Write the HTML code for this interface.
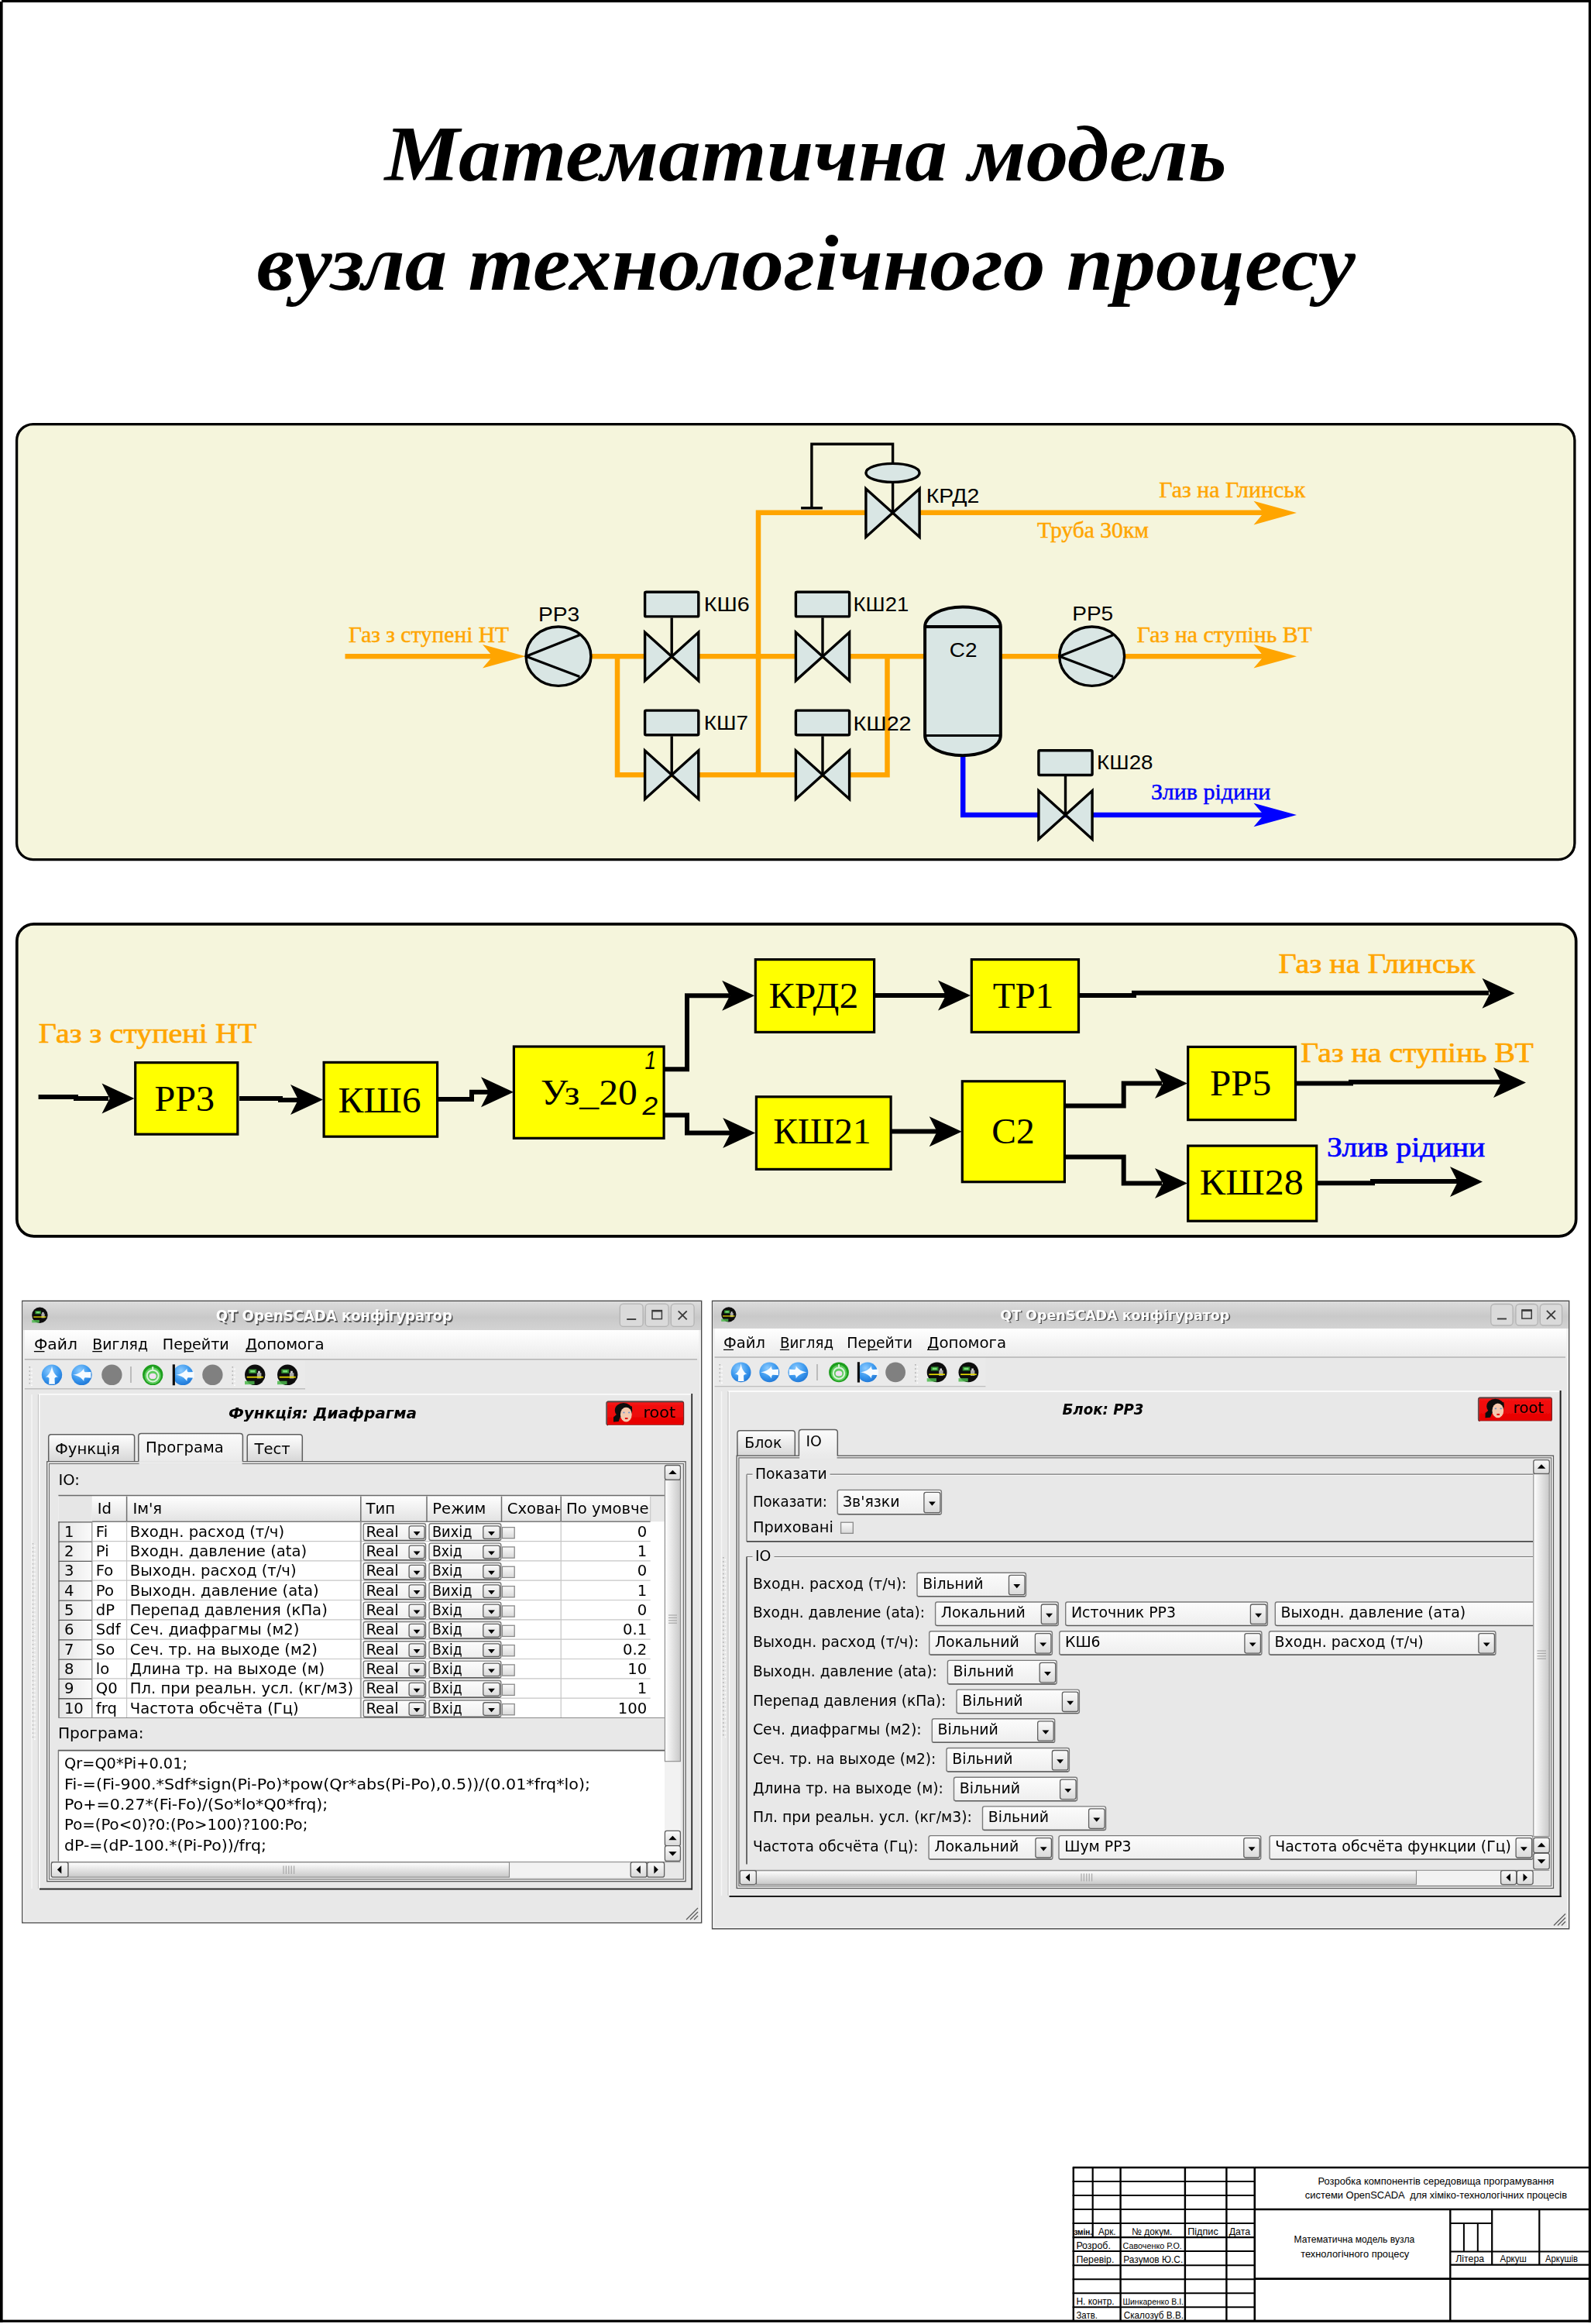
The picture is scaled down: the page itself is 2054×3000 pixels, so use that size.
<!DOCTYPE html>
<html lang="uk"><head><meta charset="utf-8"><title>Математична модель вузла технологічного процесу</title>
<style>html,body{margin:0;padding:0;background:#fff}svg{display:block}text{white-space:pre}</style></head>
<body><svg width="2054" height="3000" viewBox="0 0 2054 3000">
<rect x="0.00" y="0.00" width="3.60" height="2998.00" fill="#000" />
<rect x="0.00" y="0.00" width="2054.00" height="3.10" fill="#000" />
<rect x="2050.80" y="0.00" width="3.20" height="2998.00" fill="#000" />
<rect x="0.00" y="2994.60" width="2053.00" height="3.20" fill="#000" />
<rect x="0.00" y="0.00" width="2.00" height="2.00" fill="#fff" />
<text x="496.50" y="232.50" font-family="'Liberation Serif',serif" font-size="101" fill="#000" font-weight="bold" font-style="italic" textLength="1087.00" lengthAdjust="spacingAndGlyphs" >Математична модель</text>
<text x="331.50" y="373.80" font-family="'Liberation Serif',serif" font-size="101" fill="#000" font-weight="bold" font-style="italic" textLength="1418.50" lengthAdjust="spacingAndGlyphs" >вузла технологічного процесу</text>
<rect x="21.60" y="547.60" width="2011.30" height="562.00" fill="#F5F5DC" stroke="#000" stroke-width="3.3" rx="21" />
<rect x="21.80" y="1192.80" width="2012.90" height="403.00" fill="#F5F5DC" stroke="#000" stroke-width="3.7" rx="22" />
<line x1="445.50" y1="847.30" x2="640.00" y2="847.30" stroke="#FFA500" stroke-width="6.5" />
<path d="M678.5,847.3 L623.0,832.0 L636.0,847.3 L623.0,862.6 Z" fill="#FFA500" />
<line x1="760.00" y1="847.30" x2="1195.00" y2="847.30" stroke="#FFA500" stroke-width="6.5" />
<line x1="1292.00" y1="847.30" x2="1370.00" y2="847.30" stroke="#FFA500" stroke-width="6.5" />
<line x1="1450.00" y1="847.30" x2="1640.00" y2="847.30" stroke="#FFA500" stroke-width="6.5" />
<path d="M1674.0,847.3 L1618.5,832.0 L1631.5,847.3 L1618.5,862.6 Z" fill="#FFA500" />
<path d="M797,847.3 L797,1000.3 L1145.5,1000.3 L1145.5,847.3" fill="none" stroke="#FFA500" stroke-width="6.5" stroke-linejoin="miter"/>
<path d="M979,1000.3 L979,661.8 L1640,661.8" fill="none" stroke="#FFA500" stroke-width="6.5" stroke-linejoin="miter"/>
<path d="M1674.0,662.1 L1618.5,646.8 L1631.5,662.1 L1618.5,677.4 Z" fill="#FFA500" />
<path d="M1243.2,974 L1243.2,1052 L1640,1052" fill="none" stroke="#0000FF" stroke-width="6.5" />
<path d="M1674.0,1052.0 L1618.5,1036.7 L1631.5,1052.0 L1618.5,1067.3 Z" fill="#0000FF" />
<path d="M1047.9,656 L1047.9,573.2 L1152.6,573.2 L1152.6,598" fill="none" stroke="#000" stroke-width="3.4" stroke-linejoin="miter"/>
<line x1="1034.10" y1="655.80" x2="1061.90" y2="655.80" stroke="#000" stroke-width="3.4" />
<line x1="1152.60" y1="622.00" x2="1152.60" y2="662.00" stroke="#000" stroke-width="3.4" />
<path d="M1117.9,630.9 L1152.5,662.1 L1117.9,693.3 Z M1187.1,630.9 L1152.5,662.1 L1187.1,693.3 Z" fill="#D9E6E4" stroke="#000" stroke-width="3.4" stroke-linejoin="miter"/>
<text x="1195.70" y="649.40" font-family="'Liberation Sans',sans-serif" font-size="25.6" fill="#000" textLength="68.60" lengthAdjust="spacingAndGlyphs" >КРД2</text>
<ellipse cx="1152.5" cy="610.4" rx="34.6" ry="12" fill="#D9E6E4" stroke="#000" stroke-width="3.4"/>
<ellipse cx="721" cy="847.2" rx="41.9" ry="38.2" fill="#D9E6E4" stroke="#000" stroke-width="3.4"/>
<path d="M748.3,819.8 L679.1,847.2 L748.3,873.6" fill="none" stroke="#000" stroke-width="3.2" stroke-linejoin="round"/>
<text x="695.00" y="801.50" font-family="'Liberation Sans',sans-serif" font-size="25.6" fill="#000" textLength="53.30" lengthAdjust="spacingAndGlyphs" >PP3</text>
<ellipse cx="1409.7" cy="847.2" rx="41.9" ry="38.2" fill="#D9E6E4" stroke="#000" stroke-width="3.4"/>
<path d="M1437.0,819.8 L1367.8,847.2 L1437.0,873.6" fill="none" stroke="#000" stroke-width="3.2" stroke-linejoin="round"/>
<text x="1384.20" y="801.40" font-family="'Liberation Sans',sans-serif" font-size="25.6" fill="#000" textLength="53.00" lengthAdjust="spacingAndGlyphs" >PP5</text>
<path d="M832.6,816.2 L867.2,847.4 L832.6,878.6 Z M901.8,816.2 L867.2,847.4 L901.8,878.6 Z" fill="#D9E6E4" stroke="#000" stroke-width="3.4" stroke-linejoin="miter"/>
<line x1="867.20" y1="847.40" x2="867.20" y2="797.40" stroke="#000" stroke-width="3.4" />
<rect x="832.60" y="764.20" width="69.20" height="31.70" fill="#D9E6E4" stroke="#000" stroke-width="3.4" rx="1.5" />
<text x="908.70" y="789.00" font-family="'Liberation Sans',sans-serif" font-size="25.6" fill="#000" textLength="59.00" lengthAdjust="spacingAndGlyphs" >КШ6</text>
<path d="M832.6,969.1 L867.2,1000.3 L832.6,1031.5 Z M901.8,969.1 L867.2,1000.3 L901.8,1031.5 Z" fill="#D9E6E4" stroke="#000" stroke-width="3.4" stroke-linejoin="miter"/>
<line x1="867.20" y1="1000.30" x2="867.20" y2="950.30" stroke="#000" stroke-width="3.4" />
<rect x="832.60" y="917.10" width="69.20" height="31.70" fill="#D9E6E4" stroke="#000" stroke-width="3.4" rx="1.5" />
<text x="908.70" y="942.30" font-family="'Liberation Sans',sans-serif" font-size="25.6" fill="#000" textLength="57.30" lengthAdjust="spacingAndGlyphs" >КШ7</text>
<path d="M1027.4,816.2 L1062.0,847.4 L1027.4,878.6 Z M1096.6,816.2 L1062.0,847.4 L1096.6,878.6 Z" fill="#D9E6E4" stroke="#000" stroke-width="3.4" stroke-linejoin="miter"/>
<line x1="1062.00" y1="847.40" x2="1062.00" y2="797.40" stroke="#000" stroke-width="3.4" />
<rect x="1027.40" y="764.20" width="69.20" height="31.70" fill="#D9E6E4" stroke="#000" stroke-width="3.4" rx="1.5" />
<text x="1101.60" y="789.20" font-family="'Liberation Sans',sans-serif" font-size="25.6" fill="#000" textLength="71.60" lengthAdjust="spacingAndGlyphs" >КШ21</text>
<path d="M1027.4,969.1 L1062.0,1000.3 L1027.4,1031.5 Z M1096.6,969.1 L1062.0,1000.3 L1096.6,1031.5 Z" fill="#D9E6E4" stroke="#000" stroke-width="3.4" stroke-linejoin="miter"/>
<line x1="1062.00" y1="1000.30" x2="1062.00" y2="950.30" stroke="#000" stroke-width="3.4" />
<rect x="1027.40" y="917.10" width="69.20" height="31.70" fill="#D9E6E4" stroke="#000" stroke-width="3.4" rx="1.5" />
<text x="1101.60" y="942.50" font-family="'Liberation Sans',sans-serif" font-size="25.6" fill="#000" textLength="75.00" lengthAdjust="spacingAndGlyphs" >КШ22</text>
<path d="M1340.9,1020.8 L1375.5,1052.0 L1340.9,1083.2 Z M1410.1,1020.8 L1375.5,1052.0 L1410.1,1083.2 Z" fill="#D9E6E4" stroke="#000" stroke-width="3.4" stroke-linejoin="miter"/>
<line x1="1375.50" y1="1052.00" x2="1375.50" y2="1002.00" stroke="#000" stroke-width="3.4" />
<rect x="1340.90" y="968.80" width="69.20" height="31.70" fill="#D9E6E4" stroke="#000" stroke-width="3.4" rx="1.5" />
<text x="1416.10" y="993.40" font-family="'Liberation Sans',sans-serif" font-size="25.6" fill="#000" textLength="72.40" lengthAdjust="spacingAndGlyphs" >КШ28</text>
<path d="M1194.1,809 A48.85,25.6 0 0 1 1291.8,809 L1291.8,949.5 A48.85,25.7 0 0 1 1194.1,949.5 Z" fill="#D9E6E4" stroke="#000" stroke-width="4" />
<line x1="1194.10" y1="809.00" x2="1291.80" y2="809.00" stroke="#000" stroke-width="4" />
<line x1="1194.10" y1="949.50" x2="1291.80" y2="949.50" stroke="#000" stroke-width="3.2" />
<text x="1225.80" y="847.90" font-family="'Liberation Sans',sans-serif" font-size="26.2" fill="#000" textLength="35.70" lengthAdjust="spacingAndGlyphs" >C2</text>
<text x="450.00" y="828.60" font-family="'Liberation Serif',serif" font-size="28.7" fill="#FFA500" textLength="207.00" lengthAdjust="spacingAndGlyphs" stroke="#FFA500" stroke-width="0.45">Газ з ступені НТ</text>
<text x="1496.30" y="642.30" font-family="'Liberation Serif',serif" font-size="28.7" fill="#FFA500" textLength="189.00" lengthAdjust="spacingAndGlyphs" stroke="#FFA500" stroke-width="0.45">Газ на Глинськ</text>
<text x="1339.00" y="693.90" font-family="'Liberation Serif',serif" font-size="28.7" fill="#FFA500" textLength="144.00" lengthAdjust="spacingAndGlyphs" stroke="#FFA500" stroke-width="0.45">Труба 30км</text>
<text x="1467.70" y="828.80" font-family="'Liberation Serif',serif" font-size="28.7" fill="#FFA500" textLength="226.00" lengthAdjust="spacingAndGlyphs" stroke="#FFA500" stroke-width="0.45">Газ на ступінь ВТ</text>
<text x="1486.10" y="1032.00" font-family="'Liberation Serif',serif" font-size="28.7" fill="#0000FF" textLength="154.20" lengthAdjust="spacingAndGlyphs" stroke="#0000FF" stroke-width="0.45">Злив рідини</text>
<path d="M49.6,1416 L98,1416 L98,1418 L140,1418" fill="none" stroke="#000" stroke-width="6" stroke-linejoin="miter"/>
<path d="M173.5,1418.0 L131.5,1398.5 L141.5,1418.0 L131.5,1437.5 Z" fill="#000" />
<rect x="174.70" y="1371.70" width="132.10" height="92.50" fill="#FFFF00" stroke="#000" stroke-width="3.2" />
<text x="199.50" y="1433.90" font-family="'Liberation Serif',serif" font-size="45.5" fill="#000" textLength="77.50" lengthAdjust="spacingAndGlyphs" >PP3</text>
<path d="M309,1418 L362,1418 L362,1420 L385,1420" fill="none" stroke="#000" stroke-width="6" stroke-linejoin="miter"/>
<path d="M417.0,1419.5 L375.0,1400.0 L385.0,1419.5 L375.0,1439.0 Z" fill="#000" />
<rect x="418.10" y="1371.40" width="146.50" height="95.80" fill="#FFFF00" stroke="#000" stroke-width="3.2" />
<text x="436.50" y="1435.80" font-family="'Liberation Serif',serif" font-size="45.5" fill="#000" textLength="107.00" lengthAdjust="spacingAndGlyphs" >КШ6</text>
<path d="M566,1419 L609,1419 L609,1409.7 L632,1409.7" fill="none" stroke="#000" stroke-width="6" stroke-linejoin="miter"/>
<path d="M663.0,1409.7 L621.0,1390.2 L631.0,1409.7 L621.0,1429.2 Z" fill="#000" />
<rect x="663.40" y="1351.00" width="193.70" height="118.30" fill="#FFFF00" stroke="#000" stroke-width="3.2" />
<text x="698.00" y="1425.60" font-family="'Liberation Serif',serif" font-size="45.5" fill="#000" textLength="124.80" lengthAdjust="spacingAndGlyphs" >Уз_20</text>
<text x="832.50" y="1379.80" font-family="'Liberation Sans',sans-serif" font-size="33" fill="#000" font-style="italic" textLength="14.50" lengthAdjust="spacingAndGlyphs" >1</text>
<text x="829.50" y="1438.80" font-family="'Liberation Sans',sans-serif" font-size="33" fill="#000" font-style="italic" textLength="19.50" lengthAdjust="spacingAndGlyphs" >2</text>
<path d="M858,1380.3 L887,1380.3 L887,1285.2 L942,1285.2" fill="none" stroke="#000" stroke-width="6" stroke-linejoin="miter"/>
<path d="M974.2,1285.2 L932.2,1265.7 L942.2,1285.2 L932.2,1304.7 Z" fill="#000" />
<rect x="975.30" y="1238.60" width="153.30" height="93.80" fill="#FFFF00" stroke="#000" stroke-width="3.2" />
<text x="992.50" y="1301.00" font-family="'Liberation Serif',serif" font-size="45.5" fill="#000" textLength="115.80" lengthAdjust="spacingAndGlyphs" >КРД2</text>
<path d="M1129.5,1284.9 L1222,1284.9" fill="none" stroke="#000" stroke-width="6" stroke-linejoin="miter"/>
<path d="M1253.0,1284.9 L1211.0,1265.4 L1221.0,1284.9 L1211.0,1304.4 Z" fill="#000" />
<rect x="1254.30" y="1238.60" width="138.20" height="93.80" fill="#FFFF00" stroke="#000" stroke-width="3.2" />
<text x="1281.80" y="1301.00" font-family="'Liberation Serif',serif" font-size="45.5" fill="#000" textLength="78.40" lengthAdjust="spacingAndGlyphs" >ТР1</text>
<path d="M1393.5,1284.9 L1464,1284.9 L1464,1281.7 L1922,1281.7" fill="none" stroke="#000" stroke-width="6" stroke-linejoin="miter"/>
<path d="M1955.5,1282.3 L1913.5,1262.8 L1923.5,1282.3 L1913.5,1301.8 Z" fill="#000" />
<path d="M858,1439.5 L887,1439.5 L887,1462.5 L944,1462.5" fill="none" stroke="#000" stroke-width="6" stroke-linejoin="miter"/>
<path d="M975.2,1462.5 L933.2,1443.0 L943.2,1462.5 L933.2,1482.0 Z" fill="#000" />
<rect x="976.40" y="1415.80" width="173.70" height="93.60" fill="#FFFF00" stroke="#000" stroke-width="3.2" />
<text x="998.20" y="1476.40" font-family="'Liberation Serif',serif" font-size="45.5" fill="#000" textLength="126.30" lengthAdjust="spacingAndGlyphs" >КШ21</text>
<path d="M1151,1460.6 L1210,1460.6" fill="none" stroke="#000" stroke-width="6" stroke-linejoin="miter"/>
<path d="M1241.7,1460.8 L1199.7,1441.3 L1209.7,1460.8 L1199.7,1480.3 Z" fill="#000" />
<rect x="1242.30" y="1395.80" width="132.10" height="129.90" fill="#FFFF00" stroke="#000" stroke-width="3.2" />
<text x="1280.30" y="1476.40" font-family="'Liberation Serif',serif" font-size="45.5" fill="#000" textLength="55.40" lengthAdjust="spacingAndGlyphs" >С2</text>
<path d="M1375.5,1427.4 L1450.7,1427.4 L1450.7,1398.4 L1500,1398.4" fill="none" stroke="#000" stroke-width="6" stroke-linejoin="miter"/>
<path d="M1533.0,1398.6 L1491.0,1379.1 L1501.0,1398.6 L1491.0,1418.1 Z" fill="#000" />
<rect x="1533.70" y="1351.40" width="138.80" height="94.20" fill="#FFFF00" stroke="#000" stroke-width="3.2" />
<text x="1562.00" y="1414.20" font-family="'Liberation Serif',serif" font-size="45.5" fill="#000" textLength="79.20" lengthAdjust="spacingAndGlyphs" >РР5</text>
<path d="M1673.5,1398.5 L1744,1398.5 L1744,1396.8 L1938,1396.8" fill="none" stroke="#000" stroke-width="6" stroke-linejoin="miter"/>
<path d="M1970.0,1397.4 L1928.0,1377.9 L1938.0,1397.4 L1928.0,1416.9 Z" fill="#000" />
<path d="M1375.5,1493.4 L1450.7,1493.4 L1450.7,1527.4 L1500,1527.4" fill="none" stroke="#000" stroke-width="6" stroke-linejoin="miter"/>
<path d="M1533.0,1527.4 L1491.0,1507.9 L1501.0,1527.4 L1491.0,1546.9 Z" fill="#000" />
<rect x="1533.70" y="1479.10" width="166.00" height="97.10" fill="#FFFF00" stroke="#000" stroke-width="3.2" />
<text x="1548.80" y="1542.40" font-family="'Liberation Serif',serif" font-size="45.5" fill="#000" textLength="133.90" lengthAdjust="spacingAndGlyphs" >КШ28</text>
<path d="M1700.5,1527.3 L1772,1527.3 L1772,1525 L1882,1525" fill="none" stroke="#000" stroke-width="6" stroke-linejoin="miter"/>
<path d="M1914.0,1525.4 L1872.0,1505.9 L1882.0,1525.4 L1872.0,1544.9 Z" fill="#000" />
<text x="49.80" y="1345.80" font-family="'Liberation Serif',serif" font-size="36.8" fill="#FFA500" textLength="281.50" lengthAdjust="spacingAndGlyphs" stroke="#FFA500" stroke-width="0.7">Газ з ступені НТ</text>
<text x="1650.40" y="1256.40" font-family="'Liberation Serif',serif" font-size="36.8" fill="#FFA500" textLength="254.20" lengthAdjust="spacingAndGlyphs" stroke="#FFA500" stroke-width="0.7">Газ на Глинськ</text>
<text x="1679.30" y="1371.30" font-family="'Liberation Serif',serif" font-size="36.8" fill="#FFA500" textLength="300.50" lengthAdjust="spacingAndGlyphs" stroke="#FFA500" stroke-width="0.7">Газ на ступінь ВТ</text>
<text x="1713.10" y="1493.20" font-family="'Liberation Serif',serif" font-size="36.8" fill="#0000FF" textLength="204.10" lengthAdjust="spacingAndGlyphs" stroke="#0000FF" stroke-width="0.7">Злив рідини</text>
<defs>
<linearGradient id="gTitle" x1="0" y1="0" x2="0" y2="1"><stop offset="0" stop-color="#DCDCDC"/><stop offset="0.55" stop-color="#C9C9C9"/><stop offset="1" stop-color="#D3D3D3"/></linearGradient>
<linearGradient id="gMenu" x1="0" y1="0" x2="0" y2="1"><stop offset="0" stop-color="#FFFFFF"/><stop offset="1" stop-color="#EBEBEB"/></linearGradient>
<linearGradient id="gBtn" x1="0" y1="0" x2="0" y2="1"><stop offset="0" stop-color="#FBFBFB"/><stop offset="1" stop-color="#D9D9D9"/></linearGradient>
<linearGradient id="gCombo" x1="0" y1="0" x2="0" y2="1"><stop offset="0" stop-color="#FCFCFC"/><stop offset="1" stop-color="#EEEEEE"/></linearGradient>
<linearGradient id="gHdr" x1="0" y1="0" x2="0" y2="1"><stop offset="0" stop-color="#FFFFFF"/><stop offset="1" stop-color="#E2E2E2"/></linearGradient>
<linearGradient id="gTab" x1="0" y1="0" x2="0" y2="1"><stop offset="0" stop-color="#FFFFFF"/><stop offset="1" stop-color="#D6D6D6"/></linearGradient>
<linearGradient id="gTabSel" x1="0" y1="0" x2="0" y2="1"><stop offset="0" stop-color="#FBFBFB"/><stop offset="1" stop-color="#EAEAEA"/></linearGradient>
<linearGradient id="gRowH" x1="0" y1="0" x2="1" y2="0"><stop offset="0" stop-color="#E4E4E4"/><stop offset="1" stop-color="#FAFAFA"/></linearGradient>
<linearGradient id="gSbV" x1="0" y1="0" x2="1" y2="0"><stop offset="0" stop-color="#FFFFFF"/><stop offset="1" stop-color="#C8C8C8"/></linearGradient>
<linearGradient id="gSbH" x1="0" y1="0" x2="0" y2="1"><stop offset="0" stop-color="#FFFFFF"/><stop offset="1" stop-color="#C8C8C8"/></linearGradient>
<linearGradient id="gRed" x1="0" y1="0" x2="0" y2="1"><stop offset="0" stop-color="#F51414"/><stop offset="1" stop-color="#E60000"/></linearGradient>
<radialGradient id="gBlue" cx="0.4" cy="0.3" r="0.8"><stop offset="0" stop-color="#8CCBFF"/><stop offset="0.55" stop-color="#3A98EE"/><stop offset="1" stop-color="#1A6FD0"/></radialGradient>
<radialGradient id="gGreen" cx="0.5" cy="0.4" r="0.7"><stop offset="0" stop-color="#6FE06F"/><stop offset="0.7" stop-color="#22AA22"/><stop offset="1" stop-color="#0A7A0A"/></radialGradient>
</defs>
<filter id="soft" x="-2%" y="-2%" width="104%" height="104%"><feGaussianBlur stdDeviation="0.5"/></filter>
<g filter="url(#soft)">
<rect x="28.80" y="1679.40" width="876.80" height="802.60" fill="#E8E8E8" stroke="#4A4A4A" stroke-width="1.5" />
<rect x="30.30" y="1680.90" width="873.80" height="799.60" fill="none" stroke="#F6F6F6" stroke-width="1.5" />
<rect x="29.60" y="1680.20" width="875.20" height="36.80" fill="url(#gTitle)" />
<circle cx="51.4" cy="1697.8" r="10.2" fill="#0C0C0C"/>
<rect x="45.28" y="1692.19" width="7.65" height="4.08" fill="#2E8A2E" />
<rect x="46.81" y="1693.21" width="4.59" height="2.04" fill="#7ADC7A" />
<rect x="53.44" y="1695.76" width="4.28" height="5.61" fill="#A8A8A8" />
<rect x="54.46" y="1693.92" width="2.04" height="2.24" fill="#D8D8D8" />
<line x1="43.24" y1="1700.04" x2="59.56" y2="1700.04" stroke="#E8DC00" stroke-width="1.3259999999999998" />
<rect x="41.20" y="1703.92" width="9.69" height="3.47" fill="#4CB84C" opacity="0.85"/>
<text x="280.40" y="1707.00" font-family="'DejaVu Sans','Liberation Sans',sans-serif" font-size="18.6" fill="#555" font-weight="bold" textLength="305.00" lengthAdjust="spacingAndGlyphs" >QT OpenSCADA конфігуратор</text>
<text x="278.80" y="1705.40" font-family="'DejaVu Sans','Liberation Sans',sans-serif" font-size="18.6" fill="#FFFFFF" font-weight="bold" textLength="305.00" lengthAdjust="spacingAndGlyphs" >QT OpenSCADA конфігуратор</text>
<rect x="800.30" y="1683.20" width="29.80" height="29.20" fill="#DADADA" stroke="#B4B4B4" stroke-width="1.3" rx="4.5" />
<line x1="809.20" y1="1703.00" x2="821.20" y2="1703.00" stroke="#3A3A3A" stroke-width="1.9" />
<rect x="833.30" y="1683.20" width="29.80" height="29.20" fill="#DADADA" stroke="#B4B4B4" stroke-width="1.3" rx="4.5" />
<rect x="842.00" y="1691.60" width="12.40" height="11.00" fill="none" stroke="#3A3A3A" stroke-width="1.5" />
<line x1="842.00" y1="1692.20" x2="854.40" y2="1692.20" stroke="#3A3A3A" stroke-width="2.4" />
<rect x="866.30" y="1683.20" width="29.80" height="29.20" fill="#DADADA" stroke="#B4B4B4" stroke-width="1.3" rx="4.5" />
<path d="M875.7,1692.3 L886.7,1703.3 M886.7,1692.3 L875.7,1703.3" fill="none" stroke="#3A3A3A" stroke-width="1.9" />
<rect x="31.80" y="1717.00" width="870.80" height="37.50" fill="url(#gMenu)" />
<line x1="31.80" y1="1754.80" x2="900.00" y2="1754.80" stroke="#B4B4B4" stroke-width="1.4" />
<text x="43.90" y="1742.00" font-family="'DejaVu Sans','Liberation Sans',sans-serif" font-size="19.6" fill="#000" textLength="56.10" lengthAdjust="spacingAndGlyphs" >Файл</text>
<text x="119.30" y="1742.00" font-family="'DejaVu Sans','Liberation Sans',sans-serif" font-size="19.6" fill="#000" textLength="71.70" lengthAdjust="spacingAndGlyphs" >Вигляд</text>
<text x="209.80" y="1742.00" font-family="'DejaVu Sans','Liberation Sans',sans-serif" font-size="19.6" fill="#000" textLength="86.00" lengthAdjust="spacingAndGlyphs" >Перейти</text>
<text x="316.70" y="1742.00" font-family="'DejaVu Sans','Liberation Sans',sans-serif" font-size="19.6" fill="#000" textLength="102.00" lengthAdjust="spacingAndGlyphs" >Допомога</text>
<line x1="43.90" y1="1744.60" x2="57.50" y2="1744.60" stroke="#000" stroke-width="1.3" />
<line x1="119.30" y1="1744.60" x2="132.00" y2="1744.60" stroke="#000" stroke-width="1.3" />
<line x1="238.00" y1="1744.60" x2="250.00" y2="1744.60" stroke="#000" stroke-width="1.3" />
<line x1="316.70" y1="1744.60" x2="331.00" y2="1744.60" stroke="#000" stroke-width="1.3" />
<rect x="31.80" y="1756.00" width="362.20" height="36.50" fill="#EAEAEA" />
<line x1="31.80" y1="1792.80" x2="394.00" y2="1792.80" stroke="#BEBEBE" stroke-width="1.4" />
<rect x="37.50" y="1764.00" width="1.60" height="1.60" fill="#B0B0B0" />
<rect x="40.10" y="1766.60" width="1.60" height="1.60" fill="#FFFFFF" />
<rect x="37.50" y="1769.20" width="1.60" height="1.60" fill="#B0B0B0" />
<rect x="40.10" y="1771.80" width="1.60" height="1.60" fill="#FFFFFF" />
<rect x="37.50" y="1774.40" width="1.60" height="1.60" fill="#B0B0B0" />
<rect x="40.10" y="1777.00" width="1.60" height="1.60" fill="#FFFFFF" />
<rect x="37.50" y="1779.60" width="1.60" height="1.60" fill="#B0B0B0" />
<rect x="40.10" y="1782.20" width="1.60" height="1.60" fill="#FFFFFF" />
<rect x="37.50" y="1784.80" width="1.60" height="1.60" fill="#B0B0B0" />
<rect x="40.10" y="1787.40" width="1.60" height="1.60" fill="#FFFFFF" />
<rect x="299.50" y="1764.00" width="1.60" height="1.60" fill="#B0B0B0" />
<rect x="302.10" y="1766.60" width="1.60" height="1.60" fill="#FFFFFF" />
<rect x="299.50" y="1769.20" width="1.60" height="1.60" fill="#B0B0B0" />
<rect x="302.10" y="1771.80" width="1.60" height="1.60" fill="#FFFFFF" />
<rect x="299.50" y="1774.40" width="1.60" height="1.60" fill="#B0B0B0" />
<rect x="302.10" y="1777.00" width="1.60" height="1.60" fill="#FFFFFF" />
<rect x="299.50" y="1779.60" width="1.60" height="1.60" fill="#B0B0B0" />
<rect x="302.10" y="1782.20" width="1.60" height="1.60" fill="#FFFFFF" />
<rect x="299.50" y="1784.80" width="1.60" height="1.60" fill="#B0B0B0" />
<rect x="302.10" y="1787.40" width="1.60" height="1.60" fill="#FFFFFF" />
<circle cx="67.0" cy="1774.8" r="13.2" fill="url(#gBlue)"/>
<path d="M0,-0.9 C0.06,-0.45 0.24,-0.02 0.64,0.22 C0.45,0.2 0.32,0.24 0.27,0.34 L0.3,0.92 L-0.3,0.92 L-0.27,0.34 C-0.32,0.24 -0.45,0.2 -0.64,0.22 C-0.24,-0.02 -0.06,-0.45 0,-0.9 Z" fill="#F6FBFF" transform="translate(67.0,1774.8) rotate(0) scale(12.94)"/>
<circle cx="105.5" cy="1774.8" r="13.2" fill="url(#gBlue)"/>
<path d="M0,-0.9 C0.06,-0.45 0.24,-0.02 0.64,0.22 C0.45,0.2 0.32,0.24 0.27,0.34 L0.3,0.92 L-0.3,0.92 L-0.27,0.34 C-0.32,0.24 -0.45,0.2 -0.64,0.22 C-0.24,-0.02 -0.06,-0.45 0,-0.9 Z" fill="#F6FBFF" transform="translate(105.5,1774.8) rotate(-90) scale(12.94)"/>
<circle cx="144.4" cy="1774.8" r="13.2" fill="#808080"/>
<line x1="169.00" y1="1764.00" x2="169.00" y2="1785.00" stroke="#B0B0B0" stroke-width="1.6" />
<circle cx="197.2" cy="1774.8" r="13.2" fill="#1F9E1F"/>
<circle cx="197.2" cy="1775.9" r="10.6" fill="#5CCB5C"/>
<circle cx="197.2" cy="1776.1" r="7.4" fill="none" stroke="#D8F4D8" stroke-width="2.1"/>
<ellipse cx="197.2" cy="1776.4" rx="4.5" ry="3.6" fill="#F2E0F2"/>
<rect x="196.14" y="1764.24" width="2.11" height="5.28" fill="#D8F4D8" />
<circle cx="236.2" cy="1774.8" r="13.2" fill="url(#gBlue)"/>
<path d="M0,-0.9 C0.06,-0.45 0.24,-0.02 0.64,0.22 C0.45,0.2 0.32,0.24 0.27,0.34 L0.3,0.92 L-0.3,0.92 L-0.27,0.34 C-0.32,0.24 -0.45,0.2 -0.64,0.22 C-0.24,-0.02 -0.06,-0.45 0,-0.9 Z" fill="#F6FBFF" transform="translate(238.6,1774.8) rotate(-90) scale(12.94)"/>
<rect x="222.74" y="1761.34" width="3.17" height="26.93" fill="#0A0A0A" />
<circle cx="274.4" cy="1774.8" r="13.2" fill="#808080"/>
<circle cx="329.2" cy="1774.8" r="13.2" fill="#0C0C0C"/>
<rect x="321.28" y="1767.54" width="9.90" height="5.28" fill="#2E8A2E" />
<rect x="323.26" y="1768.86" width="5.94" height="2.64" fill="#7ADC7A" />
<rect x="331.84" y="1772.16" width="5.54" height="7.26" fill="#A8A8A8" />
<rect x="333.16" y="1769.78" width="2.64" height="2.90" fill="#D8D8D8" />
<line x1="318.64" y1="1777.70" x2="339.76" y2="1777.70" stroke="#E8DC00" stroke-width="1.716" />
<rect x="316.00" y="1782.72" width="12.54" height="4.49" fill="#4CB84C" opacity="0.85"/>
<circle cx="371.2" cy="1774.8" r="13.2" fill="#0C0C0C"/>
<rect x="363.28" y="1767.54" width="9.90" height="5.28" fill="#2E8A2E" />
<rect x="365.26" y="1768.86" width="5.94" height="2.64" fill="#7ADC7A" />
<rect x="373.84" y="1772.16" width="5.54" height="7.26" fill="#A8A8A8" />
<rect x="375.16" y="1769.78" width="2.64" height="2.90" fill="#D8D8D8" />
<line x1="360.64" y1="1777.70" x2="381.76" y2="1777.70" stroke="#E8DC00" stroke-width="1.716" />
<rect x="358.00" y="1782.72" width="12.54" height="4.49" fill="#4CB84C" opacity="0.85"/>
<rect x="41.50" y="1992.00" width="1.60" height="1.60" fill="#B0B0B0" />
<rect x="44.10" y="1994.60" width="1.60" height="1.60" fill="#FFFFFF" />
<rect x="41.50" y="1997.20" width="1.60" height="1.60" fill="#B0B0B0" />
<rect x="44.10" y="1999.80" width="1.60" height="1.60" fill="#FFFFFF" />
<rect x="41.50" y="2002.40" width="1.60" height="1.60" fill="#B0B0B0" />
<rect x="44.10" y="2005.00" width="1.60" height="1.60" fill="#FFFFFF" />
<rect x="41.50" y="2007.60" width="1.60" height="1.60" fill="#B0B0B0" />
<rect x="44.10" y="2010.20" width="1.60" height="1.60" fill="#FFFFFF" />
<rect x="41.50" y="2012.80" width="1.60" height="1.60" fill="#B0B0B0" />
<rect x="44.10" y="2015.40" width="1.60" height="1.60" fill="#FFFFFF" />
<rect x="41.50" y="2018.00" width="1.60" height="1.60" fill="#B0B0B0" />
<rect x="44.10" y="2020.60" width="1.60" height="1.60" fill="#FFFFFF" />
<rect x="41.50" y="2023.20" width="1.60" height="1.60" fill="#B0B0B0" />
<rect x="44.10" y="2025.80" width="1.60" height="1.60" fill="#FFFFFF" />
<rect x="41.50" y="2028.40" width="1.60" height="1.60" fill="#B0B0B0" />
<rect x="44.10" y="2031.00" width="1.60" height="1.60" fill="#FFFFFF" />
<rect x="41.50" y="2033.60" width="1.60" height="1.60" fill="#B0B0B0" />
<rect x="44.10" y="2036.20" width="1.60" height="1.60" fill="#FFFFFF" />
<rect x="41.50" y="2038.80" width="1.60" height="1.60" fill="#B0B0B0" />
<rect x="44.10" y="2041.40" width="1.60" height="1.60" fill="#FFFFFF" />
<rect x="41.50" y="2044.00" width="1.60" height="1.60" fill="#B0B0B0" />
<rect x="44.10" y="2046.60" width="1.60" height="1.60" fill="#FFFFFF" />
<rect x="41.50" y="2049.20" width="1.60" height="1.60" fill="#B0B0B0" />
<rect x="44.10" y="2051.80" width="1.60" height="1.60" fill="#FFFFFF" />
<rect x="41.50" y="2054.40" width="1.60" height="1.60" fill="#B0B0B0" />
<rect x="44.10" y="2057.00" width="1.60" height="1.60" fill="#FFFFFF" />
<rect x="41.50" y="2059.60" width="1.60" height="1.60" fill="#B0B0B0" />
<rect x="44.10" y="2062.20" width="1.60" height="1.60" fill="#FFFFFF" />
<rect x="41.50" y="2064.80" width="1.60" height="1.60" fill="#B0B0B0" />
<rect x="44.10" y="2067.40" width="1.60" height="1.60" fill="#FFFFFF" />
<rect x="41.50" y="2070.00" width="1.60" height="1.60" fill="#B0B0B0" />
<rect x="44.10" y="2072.60" width="1.60" height="1.60" fill="#FFFFFF" />
<rect x="41.50" y="2075.20" width="1.60" height="1.60" fill="#B0B0B0" />
<rect x="44.10" y="2077.80" width="1.60" height="1.60" fill="#FFFFFF" />
<rect x="41.50" y="2080.40" width="1.60" height="1.60" fill="#B0B0B0" />
<rect x="44.10" y="2083.00" width="1.60" height="1.60" fill="#FFFFFF" />
<rect x="41.50" y="2085.60" width="1.60" height="1.60" fill="#B0B0B0" />
<rect x="44.10" y="2088.20" width="1.60" height="1.60" fill="#FFFFFF" />
<rect x="41.50" y="2090.80" width="1.60" height="1.60" fill="#B0B0B0" />
<rect x="44.10" y="2093.40" width="1.60" height="1.60" fill="#FFFFFF" />
<rect x="41.50" y="2096.00" width="1.60" height="1.60" fill="#B0B0B0" />
<rect x="44.10" y="2098.60" width="1.60" height="1.60" fill="#FFFFFF" />
<rect x="41.50" y="2101.20" width="1.60" height="1.60" fill="#B0B0B0" />
<rect x="44.10" y="2103.80" width="1.60" height="1.60" fill="#FFFFFF" />
<rect x="41.50" y="2106.40" width="1.60" height="1.60" fill="#B0B0B0" />
<rect x="44.10" y="2109.00" width="1.60" height="1.60" fill="#FFFFFF" />
<rect x="41.50" y="2111.60" width="1.60" height="1.60" fill="#B0B0B0" />
<rect x="44.10" y="2114.20" width="1.60" height="1.60" fill="#FFFFFF" />
<rect x="41.50" y="2116.80" width="1.60" height="1.60" fill="#B0B0B0" />
<rect x="44.10" y="2119.40" width="1.60" height="1.60" fill="#FFFFFF" />
<rect x="41.50" y="2122.00" width="1.60" height="1.60" fill="#B0B0B0" />
<rect x="44.10" y="2124.60" width="1.60" height="1.60" fill="#FFFFFF" />
<rect x="41.50" y="2127.20" width="1.60" height="1.60" fill="#B0B0B0" />
<rect x="44.10" y="2129.80" width="1.60" height="1.60" fill="#FFFFFF" />
<rect x="41.50" y="2132.40" width="1.60" height="1.60" fill="#B0B0B0" />
<rect x="44.10" y="2135.00" width="1.60" height="1.60" fill="#FFFFFF" />
<rect x="41.50" y="2137.60" width="1.60" height="1.60" fill="#B0B0B0" />
<rect x="44.10" y="2140.20" width="1.60" height="1.60" fill="#FFFFFF" />
<rect x="41.50" y="2142.80" width="1.60" height="1.60" fill="#B0B0B0" />
<rect x="44.10" y="2145.40" width="1.60" height="1.60" fill="#FFFFFF" />
<rect x="41.50" y="2148.00" width="1.60" height="1.60" fill="#B0B0B0" />
<rect x="44.10" y="2150.60" width="1.60" height="1.60" fill="#FFFFFF" />
<rect x="41.50" y="2153.20" width="1.60" height="1.60" fill="#B0B0B0" />
<rect x="44.10" y="2155.80" width="1.60" height="1.60" fill="#FFFFFF" />
<rect x="41.50" y="2158.40" width="1.60" height="1.60" fill="#B0B0B0" />
<rect x="44.10" y="2161.00" width="1.60" height="1.60" fill="#FFFFFF" />
<rect x="41.50" y="2163.60" width="1.60" height="1.60" fill="#B0B0B0" />
<rect x="44.10" y="2166.20" width="1.60" height="1.60" fill="#FFFFFF" />
<rect x="41.50" y="2168.80" width="1.60" height="1.60" fill="#B0B0B0" />
<rect x="44.10" y="2171.40" width="1.60" height="1.60" fill="#FFFFFF" />
<rect x="41.50" y="2174.00" width="1.60" height="1.60" fill="#B0B0B0" />
<rect x="44.10" y="2176.60" width="1.60" height="1.60" fill="#FFFFFF" />
<rect x="41.50" y="2179.20" width="1.60" height="1.60" fill="#B0B0B0" />
<rect x="44.10" y="2181.80" width="1.60" height="1.60" fill="#FFFFFF" />
<rect x="41.50" y="2184.40" width="1.60" height="1.60" fill="#B0B0B0" />
<rect x="44.10" y="2187.00" width="1.60" height="1.60" fill="#FFFFFF" />
<rect x="41.50" y="2189.60" width="1.60" height="1.60" fill="#B0B0B0" />
<rect x="44.10" y="2192.20" width="1.60" height="1.60" fill="#FFFFFF" />
<rect x="41.50" y="2194.80" width="1.60" height="1.60" fill="#B0B0B0" />
<rect x="44.10" y="2197.40" width="1.60" height="1.60" fill="#FFFFFF" />
<rect x="41.50" y="2200.00" width="1.60" height="1.60" fill="#B0B0B0" />
<rect x="44.10" y="2202.60" width="1.60" height="1.60" fill="#FFFFFF" />
<rect x="41.50" y="2205.20" width="1.60" height="1.60" fill="#B0B0B0" />
<rect x="44.10" y="2207.80" width="1.60" height="1.60" fill="#FFFFFF" />
<rect x="41.50" y="2210.40" width="1.60" height="1.60" fill="#B0B0B0" />
<rect x="44.10" y="2213.00" width="1.60" height="1.60" fill="#FFFFFF" />
<rect x="41.50" y="2215.60" width="1.60" height="1.60" fill="#B0B0B0" />
<rect x="44.10" y="2218.20" width="1.60" height="1.60" fill="#FFFFFF" />
<rect x="41.50" y="2220.80" width="1.60" height="1.60" fill="#B0B0B0" />
<rect x="44.10" y="2223.40" width="1.60" height="1.60" fill="#FFFFFF" />
<rect x="41.50" y="2226.00" width="1.60" height="1.60" fill="#B0B0B0" />
<rect x="44.10" y="2228.60" width="1.60" height="1.60" fill="#FFFFFF" />
<rect x="41.50" y="2231.20" width="1.60" height="1.60" fill="#B0B0B0" />
<rect x="44.10" y="2233.80" width="1.60" height="1.60" fill="#FFFFFF" />
<rect x="41.50" y="2236.40" width="1.60" height="1.60" fill="#B0B0B0" />
<rect x="44.10" y="2239.00" width="1.60" height="1.60" fill="#FFFFFF" />
<rect x="41.50" y="2241.60" width="1.60" height="1.60" fill="#B0B0B0" />
<rect x="44.10" y="2244.20" width="1.60" height="1.60" fill="#FFFFFF" />
<line x1="41.00" y1="1800.00" x2="41.00" y2="2438.00" stroke="#F6F6F6" stroke-width="1.4" />
<line x1="50.60" y1="1799.60" x2="50.60" y2="2438.00" stroke="#FBFBFB" stroke-width="1.8" />
<line x1="49.40" y1="1800.00" x2="49.40" y2="2438.00" stroke="#C0C0C0" stroke-width="1" />
<line x1="50.00" y1="1799.80" x2="893.00" y2="1799.80" stroke="#FBFBFB" stroke-width="1.8" />
<line x1="893.20" y1="1799.00" x2="893.20" y2="2439.40" stroke="#2A2A2A" stroke-width="1.8" />
<line x1="51.00" y1="2438.60" x2="894.00" y2="2438.60" stroke="#2A2A2A" stroke-width="2" />
<text x="295.00" y="1831.00" font-family="'DejaVu Sans','Liberation Sans',sans-serif" font-size="20" fill="#000" font-weight="bold" font-style="italic" textLength="243.00" lengthAdjust="spacingAndGlyphs" >Функція: Диафрагма</text>
<rect x="783.00" y="1809.20" width="99.60" height="30.50" fill="url(#gRed)" stroke="#7A2020" stroke-width="1.2" rx="2.5" />
<line x1="784.00" y1="1809.50" x2="881.60" y2="1809.50" stroke="#4A4A4A" stroke-width="1.4" />
<line x1="783.30" y1="1810.20" x2="783.30" y2="1838.70" stroke="#5A5A5A" stroke-width="1.4" />
<line x1="785.00" y1="1840.30" x2="881.60" y2="1840.30" stroke="#FAFAFA" stroke-width="1.2" />
<ellipse cx="805.0" cy="1820.5" rx="11.2" ry="9.6" fill="#0A0A0A"/>
<path d="M797.5,1824.5 L792.0,1829.5 L792.0,1835.5 L798.5,1835.0 L801.5,1827.5 Z" fill="#0A0A0A" />
<ellipse cx="808.3" cy="1826.0" rx="7.4" ry="9.4" fill="#F4C9AE"/>
<path d="M800.5,1822.5 C801.5,1816.5 808.5,1813.5 816.0,1819.5 L816.0,1815.5 L800.5,1814.5 Z" fill="#0A0A0A" />
<rect x="804.30" y="1822.65" width="2.20" height="1.60" fill="#6A94D0" />
<rect x="811.10" y="1822.65" width="2.20" height="1.60" fill="#6A94D0" />
<rect x="806.90" y="1830.05" width="3.60" height="2.00" fill="#E00808" />
<text x="830.51" y="1829.54" font-family="'DejaVu Sans','Liberation Sans',sans-serif" font-size="19.6" fill="#000" textLength="41.53" lengthAdjust="spacingAndGlyphs" >root</text>
<path d="M62.7,1887 L62.7,1855.3 Q62.7,1851.8 66.2,1851.8 L170.1,1851.8 Q173.6,1851.8 173.6,1855.3 L173.6,1887" fill="url(#gTab)" stroke="#5E5E5E" stroke-width="1.5" />
<text x="71.00" y="1876.50" font-family="'DejaVu Sans','Liberation Sans',sans-serif" font-size="19.6" fill="#000" >Функція</text>
<path d="M319.2,1887 L319.2,1855.3 Q319.2,1851.8 322.7,1851.8 L386.8,1851.8 Q390.3,1851.8 390.3,1855.3 L390.3,1887" fill="url(#gTab)" stroke="#5E5E5E" stroke-width="1.5" />
<text x="328.50" y="1876.50" font-family="'DejaVu Sans','Liberation Sans',sans-serif" font-size="19.6" fill="#000" >Тест</text>
<rect x="60.80" y="1886.80" width="824.20" height="541.80" fill="#E8E8E8" stroke="#5A5A5A" stroke-width="1.4" />
<rect x="63.40" y="1889.40" width="819.00" height="536.60" fill="none" stroke="#6E6E6E" stroke-width="1.3" />
<rect x="62.10" y="1888.10" width="821.60" height="539.20" fill="none" stroke="#F4F4F4" stroke-width="1.1" />
<path d="M178.8,1886.6 L178.8,1854.1 Q178.8,1850.6 182.3,1850.6 L309.9,1850.6 Q313.4,1850.6 313.4,1854.1 L313.4,1886.6" fill="url(#gTabSel)" stroke="#5E5E5E" stroke-width="1.5" />
<rect x="179.60" y="1886.10" width="133.00" height="4.40" fill="#EAEAEA" />
<text x="188.00" y="1874.50" font-family="'DejaVu Sans','Liberation Sans',sans-serif" font-size="19.6" fill="#000" >Програма</text>
<text x="75.40" y="1917.30" font-family="'DejaVu Sans','Liberation Sans',sans-serif" font-size="19.6" fill="#000" >IO:</text>
<rect x="75.40" y="1930.60" width="782.40" height="286.90" fill="#FFFFFF" />
<rect x="839.70" y="1930.60" width="18.10" height="33.60" fill="#E8E8E8" />
<rect x="118.80" y="1930.60" width="720.90" height="33.60" fill="url(#gHdr)" />
<rect x="75.40" y="1930.60" width="43.40" height="33.60" fill="#E6E6E6" />
<line x1="75.40" y1="1930.60" x2="857.80" y2="1930.60" stroke="#6A6A6A" stroke-width="1.5" />
<line x1="118.80" y1="1964.20" x2="839.70" y2="1964.20" stroke="#7A7A7A" stroke-width="1.4" />
<line x1="163.60" y1="1931.60" x2="163.60" y2="1964.20" stroke="#6E6E6E" stroke-width="1.5" />
<line x1="465.80" y1="1931.60" x2="465.80" y2="1964.20" stroke="#6E6E6E" stroke-width="1.5" />
<line x1="551.00" y1="1931.60" x2="551.00" y2="1964.20" stroke="#6E6E6E" stroke-width="1.5" />
<line x1="647.50" y1="1931.60" x2="647.50" y2="1964.20" stroke="#6E6E6E" stroke-width="1.5" />
<line x1="724.20" y1="1931.60" x2="724.20" y2="1964.20" stroke="#6E6E6E" stroke-width="1.5" />
<line x1="839.70" y1="1931.60" x2="839.70" y2="1964.20" stroke="#C8C8C8" stroke-width="1.2" />
<clipPath id="cH5"><rect x="647.5" y="1930.6" width="75.70000000000005" height="40"/></clipPath>
<clipPath id="cH6"><rect x="724.2" y="1930.6" width="114.5" height="40"/></clipPath>
<text x="125.70" y="1954.20" font-family="'DejaVu Sans','Liberation Sans',sans-serif" font-size="19.6" fill="#000" >Id</text>
<text x="171.40" y="1954.20" font-family="'DejaVu Sans','Liberation Sans',sans-serif" font-size="19.6" fill="#000" >Ім'я</text>
<text x="472.60" y="1954.20" font-family="'DejaVu Sans','Liberation Sans',sans-serif" font-size="19.6" fill="#000" >Тип</text>
<text x="558.30" y="1954.20" font-family="'DejaVu Sans','Liberation Sans',sans-serif" font-size="19.6" fill="#000" >Режим</text>
<text x="654.80" y="1954.20" font-family="'DejaVu Sans','Liberation Sans',sans-serif" font-size="19.6" fill="#000" clip-path="url(#cH5)">Схован</text>
<text x="731.10" y="1954.20" font-family="'DejaVu Sans','Liberation Sans',sans-serif" font-size="19.6" fill="#000" clip-path="url(#cH6)">По умовче</text>
<rect x="75.40" y="1964.20" width="43.40" height="25.33" fill="url(#gRowH)" />
<line x1="75.40" y1="1964.80" x2="118.80" y2="1964.80" stroke="#5A5A5A" stroke-width="1.3" />
<line x1="76.00" y1="1964.20" x2="76.00" y2="1989.53" stroke="#5A5A5A" stroke-width="1.3" />
<line x1="118.80" y1="1964.20" x2="118.80" y2="1989.53" stroke="#8A8A8A" stroke-width="1.2" />
<text x="82.90" y="1983.70" font-family="'DejaVu Sans','Liberation Sans',sans-serif" font-size="19.6" fill="#000" >1</text>
<text x="123.80" y="1983.70" font-family="'DejaVu Sans','Liberation Sans',sans-serif" font-size="19.6" fill="#000" >Fi</text>
<text x="167.80" y="1983.70" font-family="'DejaVu Sans','Liberation Sans',sans-serif" font-size="19.6" fill="#000" >Входн. расход (т/ч)</text>
<line x1="118.80" y1="1989.53" x2="839.70" y2="1989.53" stroke="#C6C6C6" stroke-width="1.2" />
<rect x="469.20" y="1966.80" width="80.40" height="21.80" fill="url(#gCombo)" stroke="#7A7A7A" stroke-width="1.4" rx="2.5" />
<line x1="470.70" y1="1988.40" x2="548.10" y2="1988.40" stroke="#5A5A5A" stroke-width="1.2" />
<text x="472.40" y="1983.70" font-family="'DejaVu Sans','Liberation Sans',sans-serif" font-size="19.6" fill="#000" >Real</text>
<rect x="528.10" y="1969.80" width="20.00" height="16.60" fill="url(#gBtn)" stroke="#5E5E5E" stroke-width="1.3" rx="2.5" />
<path d="M533.7,1977.1 L542.5,1977.1 L538.1,1982.3 Z" fill="#000" />
<rect x="554.00" y="1966.80" width="92.80" height="21.80" fill="url(#gCombo)" stroke="#7A7A7A" stroke-width="1.4" rx="2.5" />
<line x1="555.50" y1="1988.40" x2="645.30" y2="1988.40" stroke="#5A5A5A" stroke-width="1.2" />
<text x="557.90" y="1983.70" font-family="'DejaVu Sans','Liberation Sans',sans-serif" font-size="19.6" fill="#000" textLength="51.60" lengthAdjust="spacingAndGlyphs" >Вихід</text>
<rect x="623.80" y="1969.80" width="21.50" height="16.60" fill="url(#gBtn)" stroke="#5E5E5E" stroke-width="1.3" rx="2.5" />
<path d="M630.1,1977.1 L638.9,1977.1 L634.5,1982.3 Z" fill="#000" />
<rect x="648.40" y="1971.60" width="15.80" height="14.22" fill="url(#gBtn)" stroke="#8A8A8A" stroke-width="1.3" />
<text x="835.20" y="1983.70" font-family="'DejaVu Sans','Liberation Sans',sans-serif" font-size="19.6" fill="#000" text-anchor="end" >0</text>
<rect x="75.40" y="1989.53" width="43.40" height="25.33" fill="url(#gRowH)" />
<line x1="75.40" y1="1990.13" x2="118.80" y2="1990.13" stroke="#5A5A5A" stroke-width="1.3" />
<line x1="76.00" y1="1989.53" x2="76.00" y2="2014.86" stroke="#5A5A5A" stroke-width="1.3" />
<line x1="118.80" y1="1989.53" x2="118.80" y2="2014.86" stroke="#8A8A8A" stroke-width="1.2" />
<text x="82.90" y="2009.03" font-family="'DejaVu Sans','Liberation Sans',sans-serif" font-size="19.6" fill="#000" >2</text>
<text x="123.80" y="2009.03" font-family="'DejaVu Sans','Liberation Sans',sans-serif" font-size="19.6" fill="#000" >Pi</text>
<text x="167.80" y="2009.03" font-family="'DejaVu Sans','Liberation Sans',sans-serif" font-size="19.6" fill="#000" >Входн. давление (ata)</text>
<line x1="118.80" y1="2014.86" x2="839.70" y2="2014.86" stroke="#C6C6C6" stroke-width="1.2" />
<rect x="469.20" y="1992.13" width="80.40" height="21.80" fill="url(#gCombo)" stroke="#7A7A7A" stroke-width="1.4" rx="2.5" />
<line x1="470.70" y1="2013.73" x2="548.10" y2="2013.73" stroke="#5A5A5A" stroke-width="1.2" />
<text x="472.40" y="2009.03" font-family="'DejaVu Sans','Liberation Sans',sans-serif" font-size="19.6" fill="#000" >Real</text>
<rect x="528.10" y="1995.13" width="20.00" height="16.60" fill="url(#gBtn)" stroke="#5E5E5E" stroke-width="1.3" rx="2.5" />
<path d="M533.7,2002.4 L542.5,2002.4 L538.1,2007.6 Z" fill="#000" />
<rect x="554.00" y="1992.13" width="92.80" height="21.80" fill="url(#gCombo)" stroke="#7A7A7A" stroke-width="1.4" rx="2.5" />
<line x1="555.50" y1="2013.73" x2="645.30" y2="2013.73" stroke="#5A5A5A" stroke-width="1.2" />
<text x="557.90" y="2009.03" font-family="'DejaVu Sans','Liberation Sans',sans-serif" font-size="19.6" fill="#000" textLength="38.80" lengthAdjust="spacingAndGlyphs" >Вхід</text>
<rect x="623.80" y="1995.13" width="21.50" height="16.60" fill="url(#gBtn)" stroke="#5E5E5E" stroke-width="1.3" rx="2.5" />
<path d="M630.1,2002.4 L638.9,2002.4 L634.5,2007.6 Z" fill="#000" />
<rect x="648.40" y="1996.93" width="15.80" height="14.22" fill="url(#gBtn)" stroke="#8A8A8A" stroke-width="1.3" />
<text x="835.20" y="2009.03" font-family="'DejaVu Sans','Liberation Sans',sans-serif" font-size="19.6" fill="#000" text-anchor="end" >1</text>
<rect x="75.40" y="2014.86" width="43.40" height="25.33" fill="url(#gRowH)" />
<line x1="75.40" y1="2015.46" x2="118.80" y2="2015.46" stroke="#5A5A5A" stroke-width="1.3" />
<line x1="76.00" y1="2014.86" x2="76.00" y2="2040.19" stroke="#5A5A5A" stroke-width="1.3" />
<line x1="118.80" y1="2014.86" x2="118.80" y2="2040.19" stroke="#8A8A8A" stroke-width="1.2" />
<text x="82.90" y="2034.36" font-family="'DejaVu Sans','Liberation Sans',sans-serif" font-size="19.6" fill="#000" >3</text>
<text x="123.80" y="2034.36" font-family="'DejaVu Sans','Liberation Sans',sans-serif" font-size="19.6" fill="#000" >Fo</text>
<text x="167.80" y="2034.36" font-family="'DejaVu Sans','Liberation Sans',sans-serif" font-size="19.6" fill="#000" >Выходн. расход (т/ч)</text>
<line x1="118.80" y1="2040.19" x2="839.70" y2="2040.19" stroke="#C6C6C6" stroke-width="1.2" />
<rect x="469.20" y="2017.46" width="80.40" height="21.80" fill="url(#gCombo)" stroke="#7A7A7A" stroke-width="1.4" rx="2.5" />
<line x1="470.70" y1="2039.06" x2="548.10" y2="2039.06" stroke="#5A5A5A" stroke-width="1.2" />
<text x="472.40" y="2034.36" font-family="'DejaVu Sans','Liberation Sans',sans-serif" font-size="19.6" fill="#000" >Real</text>
<rect x="528.10" y="2020.46" width="20.00" height="16.60" fill="url(#gBtn)" stroke="#5E5E5E" stroke-width="1.3" rx="2.5" />
<path d="M533.7,2027.8 L542.5,2027.8 L538.1,2033.0 Z" fill="#000" />
<rect x="554.00" y="2017.46" width="92.80" height="21.80" fill="url(#gCombo)" stroke="#7A7A7A" stroke-width="1.4" rx="2.5" />
<line x1="555.50" y1="2039.06" x2="645.30" y2="2039.06" stroke="#5A5A5A" stroke-width="1.2" />
<text x="557.90" y="2034.36" font-family="'DejaVu Sans','Liberation Sans',sans-serif" font-size="19.6" fill="#000" textLength="38.80" lengthAdjust="spacingAndGlyphs" >Вхід</text>
<rect x="623.80" y="2020.46" width="21.50" height="16.60" fill="url(#gBtn)" stroke="#5E5E5E" stroke-width="1.3" rx="2.5" />
<path d="M630.1,2027.8 L638.9,2027.8 L634.5,2033.0 Z" fill="#000" />
<rect x="648.40" y="2022.26" width="15.80" height="14.22" fill="url(#gBtn)" stroke="#8A8A8A" stroke-width="1.3" />
<text x="835.20" y="2034.36" font-family="'DejaVu Sans','Liberation Sans',sans-serif" font-size="19.6" fill="#000" text-anchor="end" >0</text>
<rect x="75.40" y="2040.19" width="43.40" height="25.33" fill="url(#gRowH)" />
<line x1="75.40" y1="2040.79" x2="118.80" y2="2040.79" stroke="#5A5A5A" stroke-width="1.3" />
<line x1="76.00" y1="2040.19" x2="76.00" y2="2065.52" stroke="#5A5A5A" stroke-width="1.3" />
<line x1="118.80" y1="2040.19" x2="118.80" y2="2065.52" stroke="#8A8A8A" stroke-width="1.2" />
<text x="82.90" y="2059.69" font-family="'DejaVu Sans','Liberation Sans',sans-serif" font-size="19.6" fill="#000" >4</text>
<text x="123.80" y="2059.69" font-family="'DejaVu Sans','Liberation Sans',sans-serif" font-size="19.6" fill="#000" >Po</text>
<text x="167.80" y="2059.69" font-family="'DejaVu Sans','Liberation Sans',sans-serif" font-size="19.6" fill="#000" >Выходн. давление (ata)</text>
<line x1="118.80" y1="2065.52" x2="839.70" y2="2065.52" stroke="#C6C6C6" stroke-width="1.2" />
<rect x="469.20" y="2042.79" width="80.40" height="21.80" fill="url(#gCombo)" stroke="#7A7A7A" stroke-width="1.4" rx="2.5" />
<line x1="470.70" y1="2064.39" x2="548.10" y2="2064.39" stroke="#5A5A5A" stroke-width="1.2" />
<text x="472.40" y="2059.69" font-family="'DejaVu Sans','Liberation Sans',sans-serif" font-size="19.6" fill="#000" >Real</text>
<rect x="528.10" y="2045.79" width="20.00" height="16.60" fill="url(#gBtn)" stroke="#5E5E5E" stroke-width="1.3" rx="2.5" />
<path d="M533.7,2053.1 L542.5,2053.1 L538.1,2058.3 Z" fill="#000" />
<rect x="554.00" y="2042.79" width="92.80" height="21.80" fill="url(#gCombo)" stroke="#7A7A7A" stroke-width="1.4" rx="2.5" />
<line x1="555.50" y1="2064.39" x2="645.30" y2="2064.39" stroke="#5A5A5A" stroke-width="1.2" />
<text x="557.90" y="2059.69" font-family="'DejaVu Sans','Liberation Sans',sans-serif" font-size="19.6" fill="#000" textLength="51.60" lengthAdjust="spacingAndGlyphs" >Вихід</text>
<rect x="623.80" y="2045.79" width="21.50" height="16.60" fill="url(#gBtn)" stroke="#5E5E5E" stroke-width="1.3" rx="2.5" />
<path d="M630.1,2053.1 L638.9,2053.1 L634.5,2058.3 Z" fill="#000" />
<rect x="648.40" y="2047.59" width="15.80" height="14.22" fill="url(#gBtn)" stroke="#8A8A8A" stroke-width="1.3" />
<text x="835.20" y="2059.69" font-family="'DejaVu Sans','Liberation Sans',sans-serif" font-size="19.6" fill="#000" text-anchor="end" >1</text>
<rect x="75.40" y="2065.52" width="43.40" height="25.33" fill="url(#gRowH)" />
<line x1="75.40" y1="2066.12" x2="118.80" y2="2066.12" stroke="#5A5A5A" stroke-width="1.3" />
<line x1="76.00" y1="2065.52" x2="76.00" y2="2090.85" stroke="#5A5A5A" stroke-width="1.3" />
<line x1="118.80" y1="2065.52" x2="118.80" y2="2090.85" stroke="#8A8A8A" stroke-width="1.2" />
<text x="82.90" y="2085.02" font-family="'DejaVu Sans','Liberation Sans',sans-serif" font-size="19.6" fill="#000" >5</text>
<text x="123.80" y="2085.02" font-family="'DejaVu Sans','Liberation Sans',sans-serif" font-size="19.6" fill="#000" >dP</text>
<text x="167.80" y="2085.02" font-family="'DejaVu Sans','Liberation Sans',sans-serif" font-size="19.6" fill="#000" >Перепад давления (кПа)</text>
<line x1="118.80" y1="2090.85" x2="839.70" y2="2090.85" stroke="#C6C6C6" stroke-width="1.2" />
<rect x="469.20" y="2068.12" width="80.40" height="21.80" fill="url(#gCombo)" stroke="#7A7A7A" stroke-width="1.4" rx="2.5" />
<line x1="470.70" y1="2089.72" x2="548.10" y2="2089.72" stroke="#5A5A5A" stroke-width="1.2" />
<text x="472.40" y="2085.02" font-family="'DejaVu Sans','Liberation Sans',sans-serif" font-size="19.6" fill="#000" >Real</text>
<rect x="528.10" y="2071.12" width="20.00" height="16.60" fill="url(#gBtn)" stroke="#5E5E5E" stroke-width="1.3" rx="2.5" />
<path d="M533.7,2078.4 L542.5,2078.4 L538.1,2083.6 Z" fill="#000" />
<rect x="554.00" y="2068.12" width="92.80" height="21.80" fill="url(#gCombo)" stroke="#7A7A7A" stroke-width="1.4" rx="2.5" />
<line x1="555.50" y1="2089.72" x2="645.30" y2="2089.72" stroke="#5A5A5A" stroke-width="1.2" />
<text x="557.90" y="2085.02" font-family="'DejaVu Sans','Liberation Sans',sans-serif" font-size="19.6" fill="#000" textLength="38.80" lengthAdjust="spacingAndGlyphs" >Вхід</text>
<rect x="623.80" y="2071.12" width="21.50" height="16.60" fill="url(#gBtn)" stroke="#5E5E5E" stroke-width="1.3" rx="2.5" />
<path d="M630.1,2078.4 L638.9,2078.4 L634.5,2083.6 Z" fill="#000" />
<rect x="648.40" y="2072.92" width="15.80" height="14.22" fill="url(#gBtn)" stroke="#8A8A8A" stroke-width="1.3" />
<text x="835.20" y="2085.02" font-family="'DejaVu Sans','Liberation Sans',sans-serif" font-size="19.6" fill="#000" text-anchor="end" >0</text>
<rect x="75.40" y="2090.85" width="43.40" height="25.33" fill="url(#gRowH)" />
<line x1="75.40" y1="2091.45" x2="118.80" y2="2091.45" stroke="#5A5A5A" stroke-width="1.3" />
<line x1="76.00" y1="2090.85" x2="76.00" y2="2116.18" stroke="#5A5A5A" stroke-width="1.3" />
<line x1="118.80" y1="2090.85" x2="118.80" y2="2116.18" stroke="#8A8A8A" stroke-width="1.2" />
<text x="82.90" y="2110.35" font-family="'DejaVu Sans','Liberation Sans',sans-serif" font-size="19.6" fill="#000" >6</text>
<text x="123.80" y="2110.35" font-family="'DejaVu Sans','Liberation Sans',sans-serif" font-size="19.6" fill="#000" >Sdf</text>
<text x="167.80" y="2110.35" font-family="'DejaVu Sans','Liberation Sans',sans-serif" font-size="19.6" fill="#000" >Сеч. диафрагмы (м2)</text>
<line x1="118.80" y1="2116.18" x2="839.70" y2="2116.18" stroke="#C6C6C6" stroke-width="1.2" />
<rect x="469.20" y="2093.45" width="80.40" height="21.80" fill="url(#gCombo)" stroke="#7A7A7A" stroke-width="1.4" rx="2.5" />
<line x1="470.70" y1="2115.05" x2="548.10" y2="2115.05" stroke="#5A5A5A" stroke-width="1.2" />
<text x="472.40" y="2110.35" font-family="'DejaVu Sans','Liberation Sans',sans-serif" font-size="19.6" fill="#000" >Real</text>
<rect x="528.10" y="2096.45" width="20.00" height="16.60" fill="url(#gBtn)" stroke="#5E5E5E" stroke-width="1.3" rx="2.5" />
<path d="M533.7,2103.8 L542.5,2103.8 L538.1,2108.9 Z" fill="#000" />
<rect x="554.00" y="2093.45" width="92.80" height="21.80" fill="url(#gCombo)" stroke="#7A7A7A" stroke-width="1.4" rx="2.5" />
<line x1="555.50" y1="2115.05" x2="645.30" y2="2115.05" stroke="#5A5A5A" stroke-width="1.2" />
<text x="557.90" y="2110.35" font-family="'DejaVu Sans','Liberation Sans',sans-serif" font-size="19.6" fill="#000" textLength="38.80" lengthAdjust="spacingAndGlyphs" >Вхід</text>
<rect x="623.80" y="2096.45" width="21.50" height="16.60" fill="url(#gBtn)" stroke="#5E5E5E" stroke-width="1.3" rx="2.5" />
<path d="M630.1,2103.8 L638.9,2103.8 L634.5,2108.9 Z" fill="#000" />
<rect x="648.40" y="2098.25" width="15.80" height="14.22" fill="url(#gBtn)" stroke="#8A8A8A" stroke-width="1.3" />
<text x="835.20" y="2110.35" font-family="'DejaVu Sans','Liberation Sans',sans-serif" font-size="19.6" fill="#000" text-anchor="end" >0.1</text>
<rect x="75.40" y="2116.18" width="43.40" height="25.33" fill="url(#gRowH)" />
<line x1="75.40" y1="2116.78" x2="118.80" y2="2116.78" stroke="#5A5A5A" stroke-width="1.3" />
<line x1="76.00" y1="2116.18" x2="76.00" y2="2141.51" stroke="#5A5A5A" stroke-width="1.3" />
<line x1="118.80" y1="2116.18" x2="118.80" y2="2141.51" stroke="#8A8A8A" stroke-width="1.2" />
<text x="82.90" y="2135.68" font-family="'DejaVu Sans','Liberation Sans',sans-serif" font-size="19.6" fill="#000" >7</text>
<text x="123.80" y="2135.68" font-family="'DejaVu Sans','Liberation Sans',sans-serif" font-size="19.6" fill="#000" >So</text>
<text x="167.80" y="2135.68" font-family="'DejaVu Sans','Liberation Sans',sans-serif" font-size="19.6" fill="#000" >Сеч. тр. на выходе (м2)</text>
<line x1="118.80" y1="2141.51" x2="839.70" y2="2141.51" stroke="#C6C6C6" stroke-width="1.2" />
<rect x="469.20" y="2118.78" width="80.40" height="21.80" fill="url(#gCombo)" stroke="#7A7A7A" stroke-width="1.4" rx="2.5" />
<line x1="470.70" y1="2140.38" x2="548.10" y2="2140.38" stroke="#5A5A5A" stroke-width="1.2" />
<text x="472.40" y="2135.68" font-family="'DejaVu Sans','Liberation Sans',sans-serif" font-size="19.6" fill="#000" >Real</text>
<rect x="528.10" y="2121.78" width="20.00" height="16.60" fill="url(#gBtn)" stroke="#5E5E5E" stroke-width="1.3" rx="2.5" />
<path d="M533.7,2129.1 L542.5,2129.1 L538.1,2134.3 Z" fill="#000" />
<rect x="554.00" y="2118.78" width="92.80" height="21.80" fill="url(#gCombo)" stroke="#7A7A7A" stroke-width="1.4" rx="2.5" />
<line x1="555.50" y1="2140.38" x2="645.30" y2="2140.38" stroke="#5A5A5A" stroke-width="1.2" />
<text x="557.90" y="2135.68" font-family="'DejaVu Sans','Liberation Sans',sans-serif" font-size="19.6" fill="#000" textLength="38.80" lengthAdjust="spacingAndGlyphs" >Вхід</text>
<rect x="623.80" y="2121.78" width="21.50" height="16.60" fill="url(#gBtn)" stroke="#5E5E5E" stroke-width="1.3" rx="2.5" />
<path d="M630.1,2129.1 L638.9,2129.1 L634.5,2134.3 Z" fill="#000" />
<rect x="648.40" y="2123.58" width="15.80" height="14.22" fill="url(#gBtn)" stroke="#8A8A8A" stroke-width="1.3" />
<text x="835.20" y="2135.68" font-family="'DejaVu Sans','Liberation Sans',sans-serif" font-size="19.6" fill="#000" text-anchor="end" >0.2</text>
<rect x="75.40" y="2141.51" width="43.40" height="25.33" fill="url(#gRowH)" />
<line x1="75.40" y1="2142.11" x2="118.80" y2="2142.11" stroke="#5A5A5A" stroke-width="1.3" />
<line x1="76.00" y1="2141.51" x2="76.00" y2="2166.84" stroke="#5A5A5A" stroke-width="1.3" />
<line x1="118.80" y1="2141.51" x2="118.80" y2="2166.84" stroke="#8A8A8A" stroke-width="1.2" />
<text x="82.90" y="2161.01" font-family="'DejaVu Sans','Liberation Sans',sans-serif" font-size="19.6" fill="#000" >8</text>
<text x="123.80" y="2161.01" font-family="'DejaVu Sans','Liberation Sans',sans-serif" font-size="19.6" fill="#000" >lo</text>
<text x="167.80" y="2161.01" font-family="'DejaVu Sans','Liberation Sans',sans-serif" font-size="19.6" fill="#000" >Длина тр. на выходе (м)</text>
<line x1="118.80" y1="2166.84" x2="839.70" y2="2166.84" stroke="#C6C6C6" stroke-width="1.2" />
<rect x="469.20" y="2144.11" width="80.40" height="21.80" fill="url(#gCombo)" stroke="#7A7A7A" stroke-width="1.4" rx="2.5" />
<line x1="470.70" y1="2165.71" x2="548.10" y2="2165.71" stroke="#5A5A5A" stroke-width="1.2" />
<text x="472.40" y="2161.01" font-family="'DejaVu Sans','Liberation Sans',sans-serif" font-size="19.6" fill="#000" >Real</text>
<rect x="528.10" y="2147.11" width="20.00" height="16.60" fill="url(#gBtn)" stroke="#5E5E5E" stroke-width="1.3" rx="2.5" />
<path d="M533.7,2154.4 L542.5,2154.4 L538.1,2159.6 Z" fill="#000" />
<rect x="554.00" y="2144.11" width="92.80" height="21.80" fill="url(#gCombo)" stroke="#7A7A7A" stroke-width="1.4" rx="2.5" />
<line x1="555.50" y1="2165.71" x2="645.30" y2="2165.71" stroke="#5A5A5A" stroke-width="1.2" />
<text x="557.90" y="2161.01" font-family="'DejaVu Sans','Liberation Sans',sans-serif" font-size="19.6" fill="#000" textLength="38.80" lengthAdjust="spacingAndGlyphs" >Вхід</text>
<rect x="623.80" y="2147.11" width="21.50" height="16.60" fill="url(#gBtn)" stroke="#5E5E5E" stroke-width="1.3" rx="2.5" />
<path d="M630.1,2154.4 L638.9,2154.4 L634.5,2159.6 Z" fill="#000" />
<rect x="648.40" y="2148.91" width="15.80" height="14.22" fill="url(#gBtn)" stroke="#8A8A8A" stroke-width="1.3" />
<text x="835.20" y="2161.01" font-family="'DejaVu Sans','Liberation Sans',sans-serif" font-size="19.6" fill="#000" text-anchor="end" >10</text>
<rect x="75.40" y="2166.84" width="43.40" height="25.33" fill="url(#gRowH)" />
<line x1="75.40" y1="2167.44" x2="118.80" y2="2167.44" stroke="#5A5A5A" stroke-width="1.3" />
<line x1="76.00" y1="2166.84" x2="76.00" y2="2192.17" stroke="#5A5A5A" stroke-width="1.3" />
<line x1="118.80" y1="2166.84" x2="118.80" y2="2192.17" stroke="#8A8A8A" stroke-width="1.2" />
<text x="82.90" y="2186.34" font-family="'DejaVu Sans','Liberation Sans',sans-serif" font-size="19.6" fill="#000" >9</text>
<text x="123.80" y="2186.34" font-family="'DejaVu Sans','Liberation Sans',sans-serif" font-size="19.6" fill="#000" >Q0</text>
<text x="167.80" y="2186.34" font-family="'DejaVu Sans','Liberation Sans',sans-serif" font-size="19.6" fill="#000" >Пл. при реальн. усл. (кг/м3)</text>
<line x1="118.80" y1="2192.17" x2="839.70" y2="2192.17" stroke="#C6C6C6" stroke-width="1.2" />
<rect x="469.20" y="2169.44" width="80.40" height="21.80" fill="url(#gCombo)" stroke="#7A7A7A" stroke-width="1.4" rx="2.5" />
<line x1="470.70" y1="2191.04" x2="548.10" y2="2191.04" stroke="#5A5A5A" stroke-width="1.2" />
<text x="472.40" y="2186.34" font-family="'DejaVu Sans','Liberation Sans',sans-serif" font-size="19.6" fill="#000" >Real</text>
<rect x="528.10" y="2172.44" width="20.00" height="16.60" fill="url(#gBtn)" stroke="#5E5E5E" stroke-width="1.3" rx="2.5" />
<path d="M533.7,2179.7 L542.5,2179.7 L538.1,2184.9 Z" fill="#000" />
<rect x="554.00" y="2169.44" width="92.80" height="21.80" fill="url(#gCombo)" stroke="#7A7A7A" stroke-width="1.4" rx="2.5" />
<line x1="555.50" y1="2191.04" x2="645.30" y2="2191.04" stroke="#5A5A5A" stroke-width="1.2" />
<text x="557.90" y="2186.34" font-family="'DejaVu Sans','Liberation Sans',sans-serif" font-size="19.6" fill="#000" textLength="38.80" lengthAdjust="spacingAndGlyphs" >Вхід</text>
<rect x="623.80" y="2172.44" width="21.50" height="16.60" fill="url(#gBtn)" stroke="#5E5E5E" stroke-width="1.3" rx="2.5" />
<path d="M630.1,2179.7 L638.9,2179.7 L634.5,2184.9 Z" fill="#000" />
<rect x="648.40" y="2174.24" width="15.80" height="14.22" fill="url(#gBtn)" stroke="#8A8A8A" stroke-width="1.3" />
<text x="835.20" y="2186.34" font-family="'DejaVu Sans','Liberation Sans',sans-serif" font-size="19.6" fill="#000" text-anchor="end" >1</text>
<rect x="75.40" y="2192.17" width="43.40" height="25.33" fill="url(#gRowH)" />
<line x1="75.40" y1="2192.77" x2="118.80" y2="2192.77" stroke="#5A5A5A" stroke-width="1.3" />
<line x1="76.00" y1="2192.17" x2="76.00" y2="2217.50" stroke="#5A5A5A" stroke-width="1.3" />
<line x1="118.80" y1="2192.17" x2="118.80" y2="2217.50" stroke="#8A8A8A" stroke-width="1.2" />
<text x="82.90" y="2211.67" font-family="'DejaVu Sans','Liberation Sans',sans-serif" font-size="19.6" fill="#000" >10</text>
<text x="123.80" y="2211.67" font-family="'DejaVu Sans','Liberation Sans',sans-serif" font-size="19.6" fill="#000" >frq</text>
<text x="167.80" y="2211.67" font-family="'DejaVu Sans','Liberation Sans',sans-serif" font-size="19.6" fill="#000" >Частота обсчёта (Гц)</text>
<line x1="118.80" y1="2217.50" x2="839.70" y2="2217.50" stroke="#C6C6C6" stroke-width="1.2" />
<rect x="469.20" y="2194.77" width="80.40" height="21.80" fill="url(#gCombo)" stroke="#7A7A7A" stroke-width="1.4" rx="2.5" />
<line x1="470.70" y1="2216.37" x2="548.10" y2="2216.37" stroke="#5A5A5A" stroke-width="1.2" />
<text x="472.40" y="2211.67" font-family="'DejaVu Sans','Liberation Sans',sans-serif" font-size="19.6" fill="#000" >Real</text>
<rect x="528.10" y="2197.77" width="20.00" height="16.60" fill="url(#gBtn)" stroke="#5E5E5E" stroke-width="1.3" rx="2.5" />
<path d="M533.7,2205.1 L542.5,2205.1 L538.1,2210.3 Z" fill="#000" />
<rect x="554.00" y="2194.77" width="92.80" height="21.80" fill="url(#gCombo)" stroke="#7A7A7A" stroke-width="1.4" rx="2.5" />
<line x1="555.50" y1="2216.37" x2="645.30" y2="2216.37" stroke="#5A5A5A" stroke-width="1.2" />
<text x="557.90" y="2211.67" font-family="'DejaVu Sans','Liberation Sans',sans-serif" font-size="19.6" fill="#000" textLength="38.80" lengthAdjust="spacingAndGlyphs" >Вхід</text>
<rect x="623.80" y="2197.77" width="21.50" height="16.60" fill="url(#gBtn)" stroke="#5E5E5E" stroke-width="1.3" rx="2.5" />
<path d="M630.1,2205.1 L638.9,2205.1 L634.5,2210.3 Z" fill="#000" />
<rect x="648.40" y="2199.57" width="15.80" height="14.22" fill="url(#gBtn)" stroke="#8A8A8A" stroke-width="1.3" />
<text x="835.20" y="2211.67" font-family="'DejaVu Sans','Liberation Sans',sans-serif" font-size="19.6" fill="#000" text-anchor="end" >100</text>
<line x1="163.60" y1="1964.20" x2="163.60" y2="2217.50" stroke="#C6C6C6" stroke-width="1.2" />
<line x1="724.20" y1="1964.20" x2="724.20" y2="2217.50" stroke="#C6C6C6" stroke-width="1.2" />
<line x1="465.80" y1="1964.20" x2="465.80" y2="2217.50" stroke="#A0A0A0" stroke-width="2" />
<line x1="75.40" y1="2217.50" x2="857.80" y2="2217.50" stroke="#8A8A8A" stroke-width="1.2" />
<text x="74.90" y="2244.20" font-family="'DejaVu Sans','Liberation Sans',sans-serif" font-size="19.6" fill="#000" textLength="110.70" lengthAdjust="spacingAndGlyphs" >Програма:</text>
<rect x="74.90" y="2259.30" width="783.50" height="143.30" fill="#FFFFFF" />
<line x1="74.90" y1="2259.60" x2="858.40" y2="2259.60" stroke="#5A5A5A" stroke-width="1.8" />
<line x1="75.40" y1="2259.30" x2="75.40" y2="2402.60" stroke="#7A7A7A" stroke-width="1.4" />
<text x="83.00" y="2283.30" font-family="'DejaVu Sans','Liberation Sans',sans-serif" font-size="19.6" fill="#000" textLength="159.00" lengthAdjust="spacingAndGlyphs" >Qr=Q0*Pi+0.01;</text>
<text x="83.00" y="2309.60" font-family="'DejaVu Sans','Liberation Sans',sans-serif" font-size="19.6" fill="#000" textLength="679.00" lengthAdjust="spacingAndGlyphs" >Fi-=(Fi-900.*Sdf*sign(Pi-Po)*pow(Qr*abs(Pi-Po),0.5))/(0.01*frq*lo);</text>
<text x="83.00" y="2335.90" font-family="'DejaVu Sans','Liberation Sans',sans-serif" font-size="19.6" fill="#000" textLength="340.30" lengthAdjust="spacingAndGlyphs" >Po+=0.27*(Fi-Fo)/(So*lo*Q0*frq);</text>
<text x="83.00" y="2362.20" font-family="'DejaVu Sans','Liberation Sans',sans-serif" font-size="19.6" fill="#000" textLength="314.30" lengthAdjust="spacingAndGlyphs" >Po=(Po&lt;0)?0:(Po&gt;100)?100:Po;</text>
<text x="83.00" y="2388.50" font-family="'DejaVu Sans','Liberation Sans',sans-serif" font-size="19.6" fill="#000" textLength="260.80" lengthAdjust="spacingAndGlyphs" >dP-=(dP-100.*(Pi-Po))/frq;</text>
<rect x="858.20" y="1891.00" width="20.40" height="512.00" fill="#F2F2F2" />
<rect x="858.40" y="1910.50" width="20.00" height="363.20" fill="url(#gSbV)" stroke="#8A8A8A" stroke-width="1.1" />
<line x1="863.00" y1="2085.00" x2="874.00" y2="2085.00" stroke="#A8A8A8" stroke-width="1.2" />
<line x1="863.00" y1="2088.40" x2="874.00" y2="2088.40" stroke="#A8A8A8" stroke-width="1.2" />
<line x1="863.00" y1="2091.80" x2="874.00" y2="2091.80" stroke="#A8A8A8" stroke-width="1.2" />
<line x1="863.00" y1="2095.20" x2="874.00" y2="2095.20" stroke="#A8A8A8" stroke-width="1.2" />
<rect x="858.40" y="1891.50" width="20.00" height="18.70" fill="url(#gBtn)" stroke="#5E5E5E" stroke-width="1.3" rx="2.5" />
<path d="M863.1999999999999,1903.05 L873.6,1903.05 L868.4,1897.6499999999999 Z" fill="#000" />
<rect x="858.40" y="2363.40" width="20.00" height="19.30" fill="url(#gBtn)" stroke="#5E5E5E" stroke-width="1.3" rx="2.5" />
<path d="M863.1999999999999,2375.25 L873.6,2375.25 L868.4,2369.8500000000004 Z" fill="#000" />
<rect x="858.40" y="2382.70" width="20.00" height="19.70" fill="url(#gBtn)" stroke="#5E5E5E" stroke-width="1.3" rx="2.5" />
<path d="M863.1999999999999,2390.3500000000004 L873.6,2390.3500000000004 L868.4,2395.75 Z" fill="#000" />
<rect x="66.30" y="2403.80" width="791.30" height="19.60" fill="#F2F2F2" />
<line x1="66.30" y1="2403.60" x2="878.40" y2="2403.60" stroke="#9A9A9A" stroke-width="1.1" />
<rect x="88.00" y="2404.00" width="569.50" height="19.20" fill="url(#gSbH)" stroke="#8A8A8A" stroke-width="1.1" />
<line x1="366.00" y1="2408.50" x2="366.00" y2="2419.00" stroke="#A8A8A8" stroke-width="1.2" />
<line x1="369.40" y1="2408.50" x2="369.40" y2="2419.00" stroke="#A8A8A8" stroke-width="1.2" />
<line x1="372.80" y1="2408.50" x2="372.80" y2="2419.00" stroke="#A8A8A8" stroke-width="1.2" />
<line x1="376.20" y1="2408.50" x2="376.20" y2="2419.00" stroke="#A8A8A8" stroke-width="1.2" />
<line x1="379.60" y1="2408.50" x2="379.60" y2="2419.00" stroke="#A8A8A8" stroke-width="1.2" />
<rect x="66.30" y="2403.80" width="21.60" height="19.40" fill="url(#gBtn)" stroke="#5E5E5E" stroke-width="1.3" rx="2.5" />
<path d="M79.3,2408.3 L79.3,2418.7 L73.89999999999999,2413.5 Z" fill="#000" />
<rect x="814.20" y="2403.80" width="20.80" height="19.40" fill="url(#gBtn)" stroke="#5E5E5E" stroke-width="1.3" rx="2.5" />
<path d="M826.8000000000001,2408.3 L826.8000000000001,2418.7 L821.4,2413.5 Z" fill="#000" />
<rect x="835.60" y="2403.80" width="22.00" height="19.40" fill="url(#gBtn)" stroke="#5E5E5E" stroke-width="1.3" rx="2.5" />
<path d="M844.4,2408.3 L844.4,2418.7 L849.8000000000001,2413.5 Z" fill="#000" />
<line x1="886.00" y1="2478.00" x2="901.00" y2="2463.00" stroke="#5A5A5A" stroke-width="1.3" />
<line x1="891.00" y1="2478.00" x2="901.00" y2="2468.00" stroke="#5A5A5A" stroke-width="1.3" />
<line x1="896.00" y1="2478.00" x2="901.00" y2="2473.00" stroke="#5A5A5A" stroke-width="1.3" />
</g><g filter="url(#soft)">
<rect x="919.60" y="1679.40" width="1106.00" height="810.40" fill="#E8E8E8" stroke="#4A4A4A" stroke-width="1.5" />
<rect x="921.10" y="1680.90" width="1103.00" height="807.40" fill="none" stroke="#F6F6F6" stroke-width="1.5" />
<rect x="920.40" y="1680.20" width="1104.40" height="34.80" fill="url(#gTitle)" />
<circle cx="940.8" cy="1696.8" r="9.6" fill="#0C0C0C"/>
<rect x="935.04" y="1691.52" width="7.20" height="3.84" fill="#2E8A2E" />
<rect x="936.48" y="1692.48" width="4.32" height="1.92" fill="#7ADC7A" />
<rect x="942.72" y="1694.88" width="4.03" height="5.28" fill="#A8A8A8" />
<rect x="943.68" y="1693.15" width="1.92" height="2.11" fill="#D8D8D8" />
<line x1="933.12" y1="1698.91" x2="948.48" y2="1698.91" stroke="#E8DC00" stroke-width="1.248" />
<rect x="931.20" y="1702.56" width="9.12" height="3.26" fill="#4CB84C" opacity="0.85"/>
<text x="1292.90" y="1705.20" font-family="'DejaVu Sans','Liberation Sans',sans-serif" font-size="18" fill="#555" font-weight="bold" textLength="296.00" lengthAdjust="spacingAndGlyphs" >QT OpenSCADA конфігуратор</text>
<text x="1291.30" y="1703.60" font-family="'DejaVu Sans','Liberation Sans',sans-serif" font-size="18" fill="#FFFFFF" font-weight="bold" textLength="296.00" lengthAdjust="spacingAndGlyphs" >QT OpenSCADA конфігуратор</text>
<rect x="1924.80" y="1683.50" width="28.30" height="27.50" fill="#DADADA" stroke="#B4B4B4" stroke-width="1.3" rx="4.5" />
<line x1="1932.95" y1="1702.45" x2="1944.95" y2="1702.45" stroke="#3A3A3A" stroke-width="1.9" />
<rect x="1956.90" y="1683.50" width="28.30" height="27.50" fill="#DADADA" stroke="#B4B4B4" stroke-width="1.3" rx="4.5" />
<rect x="1964.85" y="1691.05" width="12.40" height="11.00" fill="none" stroke="#3A3A3A" stroke-width="1.5" />
<line x1="1964.85" y1="1691.65" x2="1977.25" y2="1691.65" stroke="#3A3A3A" stroke-width="2.4" />
<rect x="1988.30" y="1683.50" width="28.30" height="27.50" fill="#DADADA" stroke="#B4B4B4" stroke-width="1.3" rx="4.5" />
<path d="M1996.9,1691.8 L2007.9,1702.8 M2007.9,1691.8 L1996.9,1702.8" fill="none" stroke="#3A3A3A" stroke-width="1.9" />
<rect x="922.60" y="1715.00" width="1100.00" height="36.50" fill="url(#gMenu)" />
<line x1="922.60" y1="1752.00" x2="2021.00" y2="1752.00" stroke="#B4B4B4" stroke-width="1.4" />
<text x="934.00" y="1739.80" font-family="'DejaVu Sans','Liberation Sans',sans-serif" font-size="18.9" fill="#000" textLength="54.00" lengthAdjust="spacingAndGlyphs" >Файл</text>
<text x="1006.90" y="1739.80" font-family="'DejaVu Sans','Liberation Sans',sans-serif" font-size="18.9" fill="#000" textLength="69.10" lengthAdjust="spacingAndGlyphs" >Вигляд</text>
<text x="1093.30" y="1739.80" font-family="'DejaVu Sans','Liberation Sans',sans-serif" font-size="18.9" fill="#000" textLength="84.80" lengthAdjust="spacingAndGlyphs" >Перейти</text>
<text x="1197.00" y="1739.80" font-family="'DejaVu Sans','Liberation Sans',sans-serif" font-size="18.9" fill="#000" textLength="102.10" lengthAdjust="spacingAndGlyphs" >Допомога</text>
<line x1="934.00" y1="1742.40" x2="947.00" y2="1742.40" stroke="#000" stroke-width="1.2" />
<line x1="1006.90" y1="1742.40" x2="1019.00" y2="1742.40" stroke="#000" stroke-width="1.2" />
<line x1="1121.00" y1="1742.40" x2="1133.00" y2="1742.40" stroke="#000" stroke-width="1.2" />
<line x1="1197.00" y1="1742.40" x2="1211.00" y2="1742.40" stroke="#000" stroke-width="1.2" />
<rect x="922.60" y="1753.00" width="349.80" height="36.00" fill="#EAEAEA" />
<line x1="922.60" y1="1789.60" x2="1272.40" y2="1789.60" stroke="#BEBEBE" stroke-width="1.4" />
<rect x="928.50" y="1761.00" width="1.60" height="1.60" fill="#B0B0B0" />
<rect x="931.10" y="1763.60" width="1.60" height="1.60" fill="#FFFFFF" />
<rect x="928.50" y="1766.20" width="1.60" height="1.60" fill="#B0B0B0" />
<rect x="931.10" y="1768.80" width="1.60" height="1.60" fill="#FFFFFF" />
<rect x="928.50" y="1771.40" width="1.60" height="1.60" fill="#B0B0B0" />
<rect x="931.10" y="1774.00" width="1.60" height="1.60" fill="#FFFFFF" />
<rect x="928.50" y="1776.60" width="1.60" height="1.60" fill="#B0B0B0" />
<rect x="931.10" y="1779.20" width="1.60" height="1.60" fill="#FFFFFF" />
<rect x="928.50" y="1781.80" width="1.60" height="1.60" fill="#B0B0B0" />
<rect x="931.10" y="1784.40" width="1.60" height="1.60" fill="#FFFFFF" />
<rect x="1181.00" y="1761.00" width="1.60" height="1.60" fill="#B0B0B0" />
<rect x="1183.60" y="1763.60" width="1.60" height="1.60" fill="#FFFFFF" />
<rect x="1181.00" y="1766.20" width="1.60" height="1.60" fill="#B0B0B0" />
<rect x="1183.60" y="1768.80" width="1.60" height="1.60" fill="#FFFFFF" />
<rect x="1181.00" y="1771.40" width="1.60" height="1.60" fill="#B0B0B0" />
<rect x="1183.60" y="1774.00" width="1.60" height="1.60" fill="#FFFFFF" />
<rect x="1181.00" y="1776.60" width="1.60" height="1.60" fill="#B0B0B0" />
<rect x="1183.60" y="1779.20" width="1.60" height="1.60" fill="#FFFFFF" />
<rect x="1181.00" y="1781.80" width="1.60" height="1.60" fill="#B0B0B0" />
<rect x="1183.60" y="1784.40" width="1.60" height="1.60" fill="#FFFFFF" />
<circle cx="956.6" cy="1771.4" r="12.9" fill="url(#gBlue)"/>
<path d="M0,-0.9 C0.06,-0.45 0.24,-0.02 0.64,0.22 C0.45,0.2 0.32,0.24 0.27,0.34 L0.3,0.92 L-0.3,0.92 L-0.27,0.34 C-0.32,0.24 -0.45,0.2 -0.64,0.22 C-0.24,-0.02 -0.06,-0.45 0,-0.9 Z" fill="#F6FBFF" transform="translate(956.6,1771.4) rotate(0) scale(12.64)"/>
<circle cx="993.3" cy="1771.4" r="12.9" fill="url(#gBlue)"/>
<path d="M0,-0.9 C0.06,-0.45 0.24,-0.02 0.64,0.22 C0.45,0.2 0.32,0.24 0.27,0.34 L0.3,0.92 L-0.3,0.92 L-0.27,0.34 C-0.32,0.24 -0.45,0.2 -0.64,0.22 C-0.24,-0.02 -0.06,-0.45 0,-0.9 Z" fill="#F6FBFF" transform="translate(993.3,1771.4) rotate(-90) scale(12.64)"/>
<circle cx="1030.4" cy="1771.4" r="12.9" fill="url(#gBlue)"/>
<path d="M0,-0.9 C0.06,-0.45 0.24,-0.02 0.64,0.22 C0.45,0.2 0.32,0.24 0.27,0.34 L0.3,0.92 L-0.3,0.92 L-0.27,0.34 C-0.32,0.24 -0.45,0.2 -0.64,0.22 C-0.24,-0.02 -0.06,-0.45 0,-0.9 Z" fill="#F6FBFF" transform="translate(1030.4,1771.4) rotate(90) scale(12.64)"/>
<line x1="1055.00" y1="1761.00" x2="1055.00" y2="1782.00" stroke="#B0B0B0" stroke-width="1.6" />
<circle cx="1083.0" cy="1771.4" r="12.9" fill="#1F9E1F"/>
<circle cx="1083.0" cy="1772.4" r="10.3" fill="#5CCB5C"/>
<circle cx="1083.0" cy="1772.7" r="7.2" fill="none" stroke="#D8F4D8" stroke-width="2.1"/>
<ellipse cx="1083.0" cy="1772.9" rx="4.4" ry="3.5" fill="#F2E0F2"/>
<rect x="1081.97" y="1761.08" width="2.06" height="5.16" fill="#D8F4D8" />
<circle cx="1120.0" cy="1771.4" r="12.9" fill="url(#gBlue)"/>
<path d="M0,-0.9 C0.06,-0.45 0.24,-0.02 0.64,0.22 C0.45,0.2 0.32,0.24 0.27,0.34 L0.3,0.92 L-0.3,0.92 L-0.27,0.34 C-0.32,0.24 -0.45,0.2 -0.64,0.22 C-0.24,-0.02 -0.06,-0.45 0,-0.9 Z" fill="#F6FBFF" transform="translate(1122.3,1771.4) rotate(-90) scale(12.64)"/>
<rect x="1106.84" y="1758.24" width="3.10" height="26.32" fill="#0A0A0A" />
<circle cx="1156.1" cy="1771.4" r="12.9" fill="#808080"/>
<circle cx="1209.6" cy="1771.4" r="12.9" fill="#0C0C0C"/>
<rect x="1201.86" y="1764.31" width="9.68" height="5.16" fill="#2E8A2E" />
<rect x="1203.79" y="1765.60" width="5.81" height="2.58" fill="#7ADC7A" />
<rect x="1212.18" y="1768.82" width="5.42" height="7.10" fill="#A8A8A8" />
<rect x="1213.47" y="1766.50" width="2.58" height="2.84" fill="#D8D8D8" />
<line x1="1199.28" y1="1774.24" x2="1219.92" y2="1774.24" stroke="#E8DC00" stroke-width="1.677" />
<rect x="1196.70" y="1779.14" width="12.25" height="4.39" fill="#4CB84C" opacity="0.85"/>
<circle cx="1250.4" cy="1771.4" r="12.9" fill="#0C0C0C"/>
<rect x="1242.66" y="1764.31" width="9.68" height="5.16" fill="#2E8A2E" />
<rect x="1244.60" y="1765.60" width="5.81" height="2.58" fill="#7ADC7A" />
<rect x="1252.98" y="1768.82" width="5.42" height="7.10" fill="#A8A8A8" />
<rect x="1254.27" y="1766.50" width="2.58" height="2.84" fill="#D8D8D8" />
<line x1="1240.08" y1="1774.24" x2="1260.72" y2="1774.24" stroke="#E8DC00" stroke-width="1.677" />
<rect x="1237.50" y="1779.14" width="12.25" height="4.39" fill="#4CB84C" opacity="0.85"/>
<rect x="933.00" y="2010.00" width="1.60" height="1.60" fill="#B0B0B0" />
<rect x="935.60" y="2012.60" width="1.60" height="1.60" fill="#FFFFFF" />
<rect x="933.00" y="2015.20" width="1.60" height="1.60" fill="#B0B0B0" />
<rect x="935.60" y="2017.80" width="1.60" height="1.60" fill="#FFFFFF" />
<rect x="933.00" y="2020.40" width="1.60" height="1.60" fill="#B0B0B0" />
<rect x="935.60" y="2023.00" width="1.60" height="1.60" fill="#FFFFFF" />
<rect x="933.00" y="2025.60" width="1.60" height="1.60" fill="#B0B0B0" />
<rect x="935.60" y="2028.20" width="1.60" height="1.60" fill="#FFFFFF" />
<rect x="933.00" y="2030.80" width="1.60" height="1.60" fill="#B0B0B0" />
<rect x="935.60" y="2033.40" width="1.60" height="1.60" fill="#FFFFFF" />
<rect x="933.00" y="2036.00" width="1.60" height="1.60" fill="#B0B0B0" />
<rect x="935.60" y="2038.60" width="1.60" height="1.60" fill="#FFFFFF" />
<rect x="933.00" y="2041.20" width="1.60" height="1.60" fill="#B0B0B0" />
<rect x="935.60" y="2043.80" width="1.60" height="1.60" fill="#FFFFFF" />
<rect x="933.00" y="2046.40" width="1.60" height="1.60" fill="#B0B0B0" />
<rect x="935.60" y="2049.00" width="1.60" height="1.60" fill="#FFFFFF" />
<rect x="933.00" y="2051.60" width="1.60" height="1.60" fill="#B0B0B0" />
<rect x="935.60" y="2054.20" width="1.60" height="1.60" fill="#FFFFFF" />
<rect x="933.00" y="2056.80" width="1.60" height="1.60" fill="#B0B0B0" />
<rect x="935.60" y="2059.40" width="1.60" height="1.60" fill="#FFFFFF" />
<rect x="933.00" y="2062.00" width="1.60" height="1.60" fill="#B0B0B0" />
<rect x="935.60" y="2064.60" width="1.60" height="1.60" fill="#FFFFFF" />
<rect x="933.00" y="2067.20" width="1.60" height="1.60" fill="#B0B0B0" />
<rect x="935.60" y="2069.80" width="1.60" height="1.60" fill="#FFFFFF" />
<rect x="933.00" y="2072.40" width="1.60" height="1.60" fill="#B0B0B0" />
<rect x="935.60" y="2075.00" width="1.60" height="1.60" fill="#FFFFFF" />
<rect x="933.00" y="2077.60" width="1.60" height="1.60" fill="#B0B0B0" />
<rect x="935.60" y="2080.20" width="1.60" height="1.60" fill="#FFFFFF" />
<rect x="933.00" y="2082.80" width="1.60" height="1.60" fill="#B0B0B0" />
<rect x="935.60" y="2085.40" width="1.60" height="1.60" fill="#FFFFFF" />
<rect x="933.00" y="2088.00" width="1.60" height="1.60" fill="#B0B0B0" />
<rect x="935.60" y="2090.60" width="1.60" height="1.60" fill="#FFFFFF" />
<rect x="933.00" y="2093.20" width="1.60" height="1.60" fill="#B0B0B0" />
<rect x="935.60" y="2095.80" width="1.60" height="1.60" fill="#FFFFFF" />
<rect x="933.00" y="2098.40" width="1.60" height="1.60" fill="#B0B0B0" />
<rect x="935.60" y="2101.00" width="1.60" height="1.60" fill="#FFFFFF" />
<rect x="933.00" y="2103.60" width="1.60" height="1.60" fill="#B0B0B0" />
<rect x="935.60" y="2106.20" width="1.60" height="1.60" fill="#FFFFFF" />
<rect x="933.00" y="2108.80" width="1.60" height="1.60" fill="#B0B0B0" />
<rect x="935.60" y="2111.40" width="1.60" height="1.60" fill="#FFFFFF" />
<rect x="933.00" y="2114.00" width="1.60" height="1.60" fill="#B0B0B0" />
<rect x="935.60" y="2116.60" width="1.60" height="1.60" fill="#FFFFFF" />
<rect x="933.00" y="2119.20" width="1.60" height="1.60" fill="#B0B0B0" />
<rect x="935.60" y="2121.80" width="1.60" height="1.60" fill="#FFFFFF" />
<rect x="933.00" y="2124.40" width="1.60" height="1.60" fill="#B0B0B0" />
<rect x="935.60" y="2127.00" width="1.60" height="1.60" fill="#FFFFFF" />
<rect x="933.00" y="2129.60" width="1.60" height="1.60" fill="#B0B0B0" />
<rect x="935.60" y="2132.20" width="1.60" height="1.60" fill="#FFFFFF" />
<rect x="933.00" y="2134.80" width="1.60" height="1.60" fill="#B0B0B0" />
<rect x="935.60" y="2137.40" width="1.60" height="1.60" fill="#FFFFFF" />
<rect x="933.00" y="2140.00" width="1.60" height="1.60" fill="#B0B0B0" />
<rect x="935.60" y="2142.60" width="1.60" height="1.60" fill="#FFFFFF" />
<rect x="933.00" y="2145.20" width="1.60" height="1.60" fill="#B0B0B0" />
<rect x="935.60" y="2147.80" width="1.60" height="1.60" fill="#FFFFFF" />
<rect x="933.00" y="2150.40" width="1.60" height="1.60" fill="#B0B0B0" />
<rect x="935.60" y="2153.00" width="1.60" height="1.60" fill="#FFFFFF" />
<rect x="933.00" y="2155.60" width="1.60" height="1.60" fill="#B0B0B0" />
<rect x="935.60" y="2158.20" width="1.60" height="1.60" fill="#FFFFFF" />
<rect x="933.00" y="2160.80" width="1.60" height="1.60" fill="#B0B0B0" />
<rect x="935.60" y="2163.40" width="1.60" height="1.60" fill="#FFFFFF" />
<rect x="933.00" y="2166.00" width="1.60" height="1.60" fill="#B0B0B0" />
<rect x="935.60" y="2168.60" width="1.60" height="1.60" fill="#FFFFFF" />
<rect x="933.00" y="2171.20" width="1.60" height="1.60" fill="#B0B0B0" />
<rect x="935.60" y="2173.80" width="1.60" height="1.60" fill="#FFFFFF" />
<rect x="933.00" y="2176.40" width="1.60" height="1.60" fill="#B0B0B0" />
<rect x="935.60" y="2179.00" width="1.60" height="1.60" fill="#FFFFFF" />
<rect x="933.00" y="2181.60" width="1.60" height="1.60" fill="#B0B0B0" />
<rect x="935.60" y="2184.20" width="1.60" height="1.60" fill="#FFFFFF" />
<rect x="933.00" y="2186.80" width="1.60" height="1.60" fill="#B0B0B0" />
<rect x="935.60" y="2189.40" width="1.60" height="1.60" fill="#FFFFFF" />
<rect x="933.00" y="2192.00" width="1.60" height="1.60" fill="#B0B0B0" />
<rect x="935.60" y="2194.60" width="1.60" height="1.60" fill="#FFFFFF" />
<rect x="933.00" y="2197.20" width="1.60" height="1.60" fill="#B0B0B0" />
<rect x="935.60" y="2199.80" width="1.60" height="1.60" fill="#FFFFFF" />
<rect x="933.00" y="2202.40" width="1.60" height="1.60" fill="#B0B0B0" />
<rect x="935.60" y="2205.00" width="1.60" height="1.60" fill="#FFFFFF" />
<rect x="933.00" y="2207.60" width="1.60" height="1.60" fill="#B0B0B0" />
<rect x="935.60" y="2210.20" width="1.60" height="1.60" fill="#FFFFFF" />
<rect x="933.00" y="2212.80" width="1.60" height="1.60" fill="#B0B0B0" />
<rect x="935.60" y="2215.40" width="1.60" height="1.60" fill="#FFFFFF" />
<rect x="933.00" y="2218.00" width="1.60" height="1.60" fill="#B0B0B0" />
<rect x="935.60" y="2220.60" width="1.60" height="1.60" fill="#FFFFFF" />
<rect x="933.00" y="2223.20" width="1.60" height="1.60" fill="#B0B0B0" />
<rect x="935.60" y="2225.80" width="1.60" height="1.60" fill="#FFFFFF" />
<rect x="933.00" y="2228.40" width="1.60" height="1.60" fill="#B0B0B0" />
<rect x="935.60" y="2231.00" width="1.60" height="1.60" fill="#FFFFFF" />
<rect x="933.00" y="2233.60" width="1.60" height="1.60" fill="#B0B0B0" />
<rect x="935.60" y="2236.20" width="1.60" height="1.60" fill="#FFFFFF" />
<rect x="933.00" y="2238.80" width="1.60" height="1.60" fill="#B0B0B0" />
<rect x="935.60" y="2241.40" width="1.60" height="1.60" fill="#FFFFFF" />
<line x1="931.50" y1="1796.00" x2="931.50" y2="2447.00" stroke="#F6F6F6" stroke-width="1.4" />
<line x1="941.20" y1="1795.80" x2="941.20" y2="2447.00" stroke="#FBFBFB" stroke-width="1.8" />
<line x1="940.00" y1="1796.00" x2="940.00" y2="2447.00" stroke="#C0C0C0" stroke-width="1" />
<line x1="940.50" y1="1796.00" x2="2014.00" y2="1796.00" stroke="#FBFBFB" stroke-width="1.8" />
<line x1="2014.60" y1="1795.00" x2="2014.60" y2="2449.00" stroke="#1A1A1A" stroke-width="2" />
<line x1="941.50" y1="2448.00" x2="2015.60" y2="2448.00" stroke="#1A1A1A" stroke-width="2.2" />
<text x="1371.50" y="1826.20" font-family="'DejaVu Sans','Liberation Sans',sans-serif" font-size="19" fill="#000" font-weight="bold" font-style="italic" textLength="105.00" lengthAdjust="spacingAndGlyphs" >Блок: РР3</text>
<rect x="1908.50" y="1804.20" width="94.90" height="30.20" fill="url(#gRed)" stroke="#7A2020" stroke-width="1.2" rx="2.5" />
<line x1="1909.50" y1="1804.50" x2="2002.40" y2="1804.50" stroke="#4A4A4A" stroke-width="1.4" />
<line x1="1908.80" y1="1805.20" x2="1908.80" y2="1833.40" stroke="#5A5A5A" stroke-width="1.4" />
<line x1="1910.50" y1="1835.00" x2="2002.40" y2="1835.00" stroke="#FAFAFA" stroke-width="1.2" />
<ellipse cx="1930.5" cy="1815.3" rx="11.2" ry="9.6" fill="#0A0A0A"/>
<path d="M1923.0,1819.3 L1917.5,1824.3 L1917.5,1830.3 L1924.0,1829.8 L1927.0,1822.3 Z" fill="#0A0A0A" />
<ellipse cx="1933.8" cy="1820.9" rx="7.4" ry="9.4" fill="#F4C9AE"/>
<path d="M1926.0,1817.3 C1927.0,1811.3 1934.0,1808.3 1941.5,1814.3 L1941.5,1810.3 L1926.0,1809.3 Z" fill="#0A0A0A" />
<rect x="1929.80" y="1817.50" width="2.20" height="1.60" fill="#6A94D0" />
<rect x="1936.60" y="1817.50" width="2.20" height="1.60" fill="#6A94D0" />
<rect x="1932.40" y="1824.90" width="3.60" height="2.00" fill="#E00808" />
<text x="1953.77" y="1824.34" font-family="'DejaVu Sans','Liberation Sans',sans-serif" font-size="18.9" fill="#000" textLength="39.57" lengthAdjust="spacingAndGlyphs" >root</text>
<path d="M951.9,1879.5 L951.9,1850.3 Q951.9,1846.8 955.4,1846.8 L1022.8,1846.8 Q1026.3,1846.8 1026.3,1850.3 L1026.3,1879.5" fill="url(#gTab)" stroke="#5E5E5E" stroke-width="1.5" />
<text x="961.30" y="1868.80" font-family="'DejaVu Sans','Liberation Sans',sans-serif" font-size="18.9" fill="#000" >Блок</text>
<rect x="951.20" y="1879.20" width="1054.20" height="558.20" fill="#E8E8E8" stroke="#5A5A5A" stroke-width="1.4" />
<rect x="953.80" y="1881.80" width="1049.00" height="553.00" fill="none" stroke="#6E6E6E" stroke-width="1.3" />
<rect x="952.50" y="1880.50" width="1051.60" height="555.60" fill="none" stroke="#F4F4F4" stroke-width="1.1" />
<path d="M1031.4,1879.2 L1031.4,1849.0 Q1031.4,1845.5 1034.9,1845.5 L1077.8,1845.5 Q1081.3,1845.5 1081.3,1849.0 L1081.3,1879.2" fill="url(#gTabSel)" stroke="#5E5E5E" stroke-width="1.5" />
<rect x="1032.20" y="1878.70" width="48.30" height="4.40" fill="#EAEAEA" />
<text x="1040.50" y="1867.20" font-family="'DejaVu Sans','Liberation Sans',sans-serif" font-size="18.9" fill="#000" >IO</text>
<line x1="964.00" y1="1903.20" x2="1979.00" y2="1903.20" stroke="#7A7A7A" stroke-width="1.3" />
<line x1="964.00" y1="1904.50" x2="1979.00" y2="1904.50" stroke="#FAFAFA" stroke-width="1.2" />
<line x1="964.00" y1="1903.20" x2="964.00" y2="1990.00" stroke="#7A7A7A" stroke-width="1.3" />
<line x1="964.00" y1="1989.80" x2="1979.00" y2="1989.80" stroke="#4A4A4A" stroke-width="1.8" />
<rect x="971.50" y="1895.00" width="100.00" height="16.00" fill="#E8E8E8" />
<text x="975.00" y="1909.30" font-family="'DejaVu Sans','Liberation Sans',sans-serif" font-size="18.9" fill="#000" textLength="92.70" lengthAdjust="spacingAndGlyphs" >Показати</text>
<text x="971.90" y="1944.50" font-family="'DejaVu Sans','Liberation Sans',sans-serif" font-size="18.9" fill="#000" textLength="96.00" lengthAdjust="spacingAndGlyphs" >Показати:</text>
<rect x="1081.20" y="1923.40" width="134.20" height="31.50" fill="url(#gCombo)" stroke="#7A7A7A" stroke-width="1.4" rx="2.5" />
<line x1="1082.70" y1="1954.70" x2="1213.90" y2="1954.70" stroke="#5A5A5A" stroke-width="1.2" />
<text x="1088.00" y="1944.50" font-family="'DejaVu Sans','Liberation Sans',sans-serif" font-size="18.9" fill="#000" >Зв'язки</text>
<rect x="1192.90" y="1926.40" width="21.00" height="26.30" fill="url(#gBtn)" stroke="#5E5E5E" stroke-width="1.3" rx="2.5" />
<path d="M1199.0,1938.6 L1207.8,1938.6 L1203.4,1943.8 Z" fill="#000" />
<text x="971.90" y="1978.40" font-family="'DejaVu Sans','Liberation Sans',sans-serif" font-size="18.9" fill="#000" textLength="104.00" lengthAdjust="spacingAndGlyphs" >Приховані</text>
<rect x="1085.60" y="1965.20" width="15.70" height="14.13" fill="url(#gBtn)" stroke="#8A8A8A" stroke-width="1.3" />
<line x1="964.00" y1="2009.60" x2="1979.00" y2="2009.60" stroke="#7A7A7A" stroke-width="1.3" />
<line x1="964.00" y1="2010.90" x2="1979.00" y2="2010.90" stroke="#FAFAFA" stroke-width="1.2" />
<line x1="964.00" y1="2009.60" x2="964.00" y2="2406.50" stroke="#4A4A4A" stroke-width="1.6" />
<rect x="971.50" y="2002.00" width="28.00" height="16.00" fill="#E8E8E8" />
<text x="975.00" y="2014.80" font-family="'DejaVu Sans','Liberation Sans',sans-serif" font-size="18.9" fill="#000" >IO</text>
<clipPath id="cR"><rect x="960" y="1884" width="1019.4" height="522.5"/></clipPath>
<g clip-path="url(#cR)">
<text x="971.90" y="2050.70" font-family="'DejaVu Sans','Liberation Sans',sans-serif" font-size="18.9" fill="#000" textLength="198.50" lengthAdjust="spacingAndGlyphs" >Входн. расход (т/ч):</text>
<rect x="1184.00" y="2030.30" width="140.50" height="30.60" fill="url(#gCombo)" stroke="#7A7A7A" stroke-width="1.4" rx="2.5" />
<line x1="1185.50" y1="2060.70" x2="1323.00" y2="2060.70" stroke="#5A5A5A" stroke-width="1.2" />
<text x="1191.20" y="2050.70" font-family="'DejaVu Sans','Liberation Sans',sans-serif" font-size="18.9" fill="#000" >Вільний</text>
<rect x="1302.50" y="2033.30" width="20.50" height="25.40" fill="url(#gBtn)" stroke="#5E5E5E" stroke-width="1.3" rx="2.5" />
<path d="M1308.3,2045.0 L1317.2,2045.0 L1312.8,2050.2 Z" fill="#000" />
<text x="971.90" y="2088.40" font-family="'DejaVu Sans','Liberation Sans',sans-serif" font-size="18.9" fill="#000" textLength="222.10" lengthAdjust="spacingAndGlyphs" >Входн. давление (ata):</text>
<rect x="1207.60" y="2068.00" width="158.70" height="30.60" fill="url(#gCombo)" stroke="#7A7A7A" stroke-width="1.4" rx="2.5" />
<line x1="1209.10" y1="2098.40" x2="1364.80" y2="2098.40" stroke="#5A5A5A" stroke-width="1.2" />
<text x="1214.80" y="2088.40" font-family="'DejaVu Sans','Liberation Sans',sans-serif" font-size="18.9" fill="#000" >Локальний</text>
<rect x="1344.30" y="2071.00" width="20.50" height="25.40" fill="url(#gBtn)" stroke="#5E5E5E" stroke-width="1.3" rx="2.5" />
<path d="M1350.1,2082.7 L1359.0,2082.7 L1354.5,2087.9 Z" fill="#000" />
<rect x="1375.70" y="2068.00" width="260.70" height="30.60" fill="url(#gCombo)" stroke="#7A7A7A" stroke-width="1.4" rx="2.5" />
<line x1="1377.20" y1="2098.40" x2="1634.90" y2="2098.40" stroke="#5A5A5A" stroke-width="1.2" />
<text x="1382.90" y="2088.40" font-family="'DejaVu Sans','Liberation Sans',sans-serif" font-size="18.9" fill="#000" >Источник РР3</text>
<rect x="1614.40" y="2071.00" width="20.50" height="25.40" fill="url(#gBtn)" stroke="#5E5E5E" stroke-width="1.3" rx="2.5" />
<path d="M1620.2,2082.7 L1629.1,2082.7 L1624.7,2087.9 Z" fill="#000" />
<rect x="1646.30" y="2068.00" width="343.70" height="30.60" fill="url(#gCombo)" stroke="#7A7A7A" stroke-width="1.4" rx="2.5" />
<line x1="1647.80" y1="2098.40" x2="1988.50" y2="2098.40" stroke="#5A5A5A" stroke-width="1.2" />
<text x="1653.50" y="2088.40" font-family="'DejaVu Sans','Liberation Sans',sans-serif" font-size="18.9" fill="#000" >Выходн. давление (ата)</text>
<text x="971.90" y="2126.10" font-family="'DejaVu Sans','Liberation Sans',sans-serif" font-size="18.9" fill="#000" textLength="214.20" lengthAdjust="spacingAndGlyphs" >Выходн. расход (т/ч):</text>
<rect x="1199.70" y="2105.70" width="158.70" height="30.60" fill="url(#gCombo)" stroke="#7A7A7A" stroke-width="1.4" rx="2.5" />
<line x1="1201.20" y1="2136.10" x2="1356.90" y2="2136.10" stroke="#5A5A5A" stroke-width="1.2" />
<text x="1206.90" y="2126.10" font-family="'DejaVu Sans','Liberation Sans',sans-serif" font-size="18.9" fill="#000" >Локальний</text>
<rect x="1336.40" y="2108.70" width="20.50" height="25.40" fill="url(#gBtn)" stroke="#5E5E5E" stroke-width="1.3" rx="2.5" />
<path d="M1342.2,2120.4 L1351.1,2120.4 L1346.7,2125.6 Z" fill="#000" />
<rect x="1367.80" y="2105.70" width="261.10" height="30.60" fill="url(#gCombo)" stroke="#7A7A7A" stroke-width="1.4" rx="2.5" />
<line x1="1369.30" y1="2136.10" x2="1627.40" y2="2136.10" stroke="#5A5A5A" stroke-width="1.2" />
<text x="1375.00" y="2126.10" font-family="'DejaVu Sans','Liberation Sans',sans-serif" font-size="18.9" fill="#000" >КШ6</text>
<rect x="1606.90" y="2108.70" width="20.50" height="25.40" fill="url(#gBtn)" stroke="#5E5E5E" stroke-width="1.3" rx="2.5" />
<path d="M1612.8,2120.4 L1621.6,2120.4 L1617.2,2125.6 Z" fill="#000" />
<rect x="1638.40" y="2105.70" width="292.50" height="30.60" fill="url(#gCombo)" stroke="#7A7A7A" stroke-width="1.4" rx="2.5" />
<line x1="1639.90" y1="2136.10" x2="1929.40" y2="2136.10" stroke="#5A5A5A" stroke-width="1.2" />
<text x="1645.60" y="2126.10" font-family="'DejaVu Sans','Liberation Sans',sans-serif" font-size="18.9" fill="#000" >Входн. расход (т/ч)</text>
<rect x="1908.90" y="2108.70" width="20.50" height="25.40" fill="url(#gBtn)" stroke="#5E5E5E" stroke-width="1.3" rx="2.5" />
<path d="M1914.8,2120.4 L1923.6,2120.4 L1919.2,2125.6 Z" fill="#000" />
<text x="971.90" y="2163.80" font-family="'DejaVu Sans','Liberation Sans',sans-serif" font-size="18.9" fill="#000" textLength="237.90" lengthAdjust="spacingAndGlyphs" >Выходн. давление (ata):</text>
<rect x="1223.40" y="2143.40" width="140.80" height="30.60" fill="url(#gCombo)" stroke="#7A7A7A" stroke-width="1.4" rx="2.5" />
<line x1="1224.90" y1="2173.80" x2="1362.70" y2="2173.80" stroke="#5A5A5A" stroke-width="1.2" />
<text x="1230.60" y="2163.80" font-family="'DejaVu Sans','Liberation Sans',sans-serif" font-size="18.9" fill="#000" >Вільний</text>
<rect x="1342.20" y="2146.40" width="20.50" height="25.40" fill="url(#gBtn)" stroke="#5E5E5E" stroke-width="1.3" rx="2.5" />
<path d="M1348.0,2158.1 L1356.9,2158.1 L1352.5,2163.3 Z" fill="#000" />
<text x="971.90" y="2201.50" font-family="'DejaVu Sans','Liberation Sans',sans-serif" font-size="18.9" fill="#000" textLength="249.50" lengthAdjust="spacingAndGlyphs" >Перепад давления (кПа):</text>
<rect x="1235.00" y="2181.10" width="158.40" height="30.60" fill="url(#gCombo)" stroke="#7A7A7A" stroke-width="1.4" rx="2.5" />
<line x1="1236.50" y1="2211.50" x2="1391.90" y2="2211.50" stroke="#5A5A5A" stroke-width="1.2" />
<text x="1242.20" y="2201.50" font-family="'DejaVu Sans','Liberation Sans',sans-serif" font-size="18.9" fill="#000" >Вільний</text>
<rect x="1371.40" y="2184.10" width="20.50" height="25.40" fill="url(#gBtn)" stroke="#5E5E5E" stroke-width="1.3" rx="2.5" />
<path d="M1377.2,2195.8 L1386.1,2195.8 L1381.7,2201.0 Z" fill="#000" />
<text x="971.90" y="2239.20" font-family="'DejaVu Sans','Liberation Sans',sans-serif" font-size="18.9" fill="#000" textLength="217.80" lengthAdjust="spacingAndGlyphs" >Сеч. диафрагмы (м2):</text>
<rect x="1203.30" y="2218.80" width="158.40" height="30.60" fill="url(#gCombo)" stroke="#7A7A7A" stroke-width="1.4" rx="2.5" />
<line x1="1204.80" y1="2249.20" x2="1360.20" y2="2249.20" stroke="#5A5A5A" stroke-width="1.2" />
<text x="1210.50" y="2239.20" font-family="'DejaVu Sans','Liberation Sans',sans-serif" font-size="18.9" fill="#000" >Вільний</text>
<rect x="1339.70" y="2221.80" width="20.50" height="25.40" fill="url(#gBtn)" stroke="#5E5E5E" stroke-width="1.3" rx="2.5" />
<path d="M1345.5,2233.5 L1354.4,2233.5 L1350.0,2238.7 Z" fill="#000" />
<text x="971.90" y="2276.90" font-family="'DejaVu Sans','Liberation Sans',sans-serif" font-size="18.9" fill="#000" textLength="236.50" lengthAdjust="spacingAndGlyphs" >Сеч. тр. на выходе (м2):</text>
<rect x="1222.00" y="2256.50" width="158.40" height="30.60" fill="url(#gCombo)" stroke="#7A7A7A" stroke-width="1.4" rx="2.5" />
<line x1="1223.50" y1="2286.90" x2="1378.90" y2="2286.90" stroke="#5A5A5A" stroke-width="1.2" />
<text x="1229.20" y="2276.90" font-family="'DejaVu Sans','Liberation Sans',sans-serif" font-size="18.9" fill="#000" >Вільний</text>
<rect x="1358.40" y="2259.50" width="20.50" height="25.40" fill="url(#gBtn)" stroke="#5E5E5E" stroke-width="1.3" rx="2.5" />
<path d="M1364.2,2271.2 L1373.1,2271.2 L1368.7,2276.4 Z" fill="#000" />
<text x="971.90" y="2314.60" font-family="'DejaVu Sans','Liberation Sans',sans-serif" font-size="18.9" fill="#000" textLength="246.00" lengthAdjust="spacingAndGlyphs" >Длина тр. на выходе (м):</text>
<rect x="1231.50" y="2294.20" width="159.10" height="30.60" fill="url(#gCombo)" stroke="#7A7A7A" stroke-width="1.4" rx="2.5" />
<line x1="1233.00" y1="2324.60" x2="1389.10" y2="2324.60" stroke="#5A5A5A" stroke-width="1.2" />
<text x="1238.70" y="2314.60" font-family="'DejaVu Sans','Liberation Sans',sans-serif" font-size="18.9" fill="#000" >Вільний</text>
<rect x="1368.60" y="2297.20" width="20.50" height="25.40" fill="url(#gBtn)" stroke="#5E5E5E" stroke-width="1.3" rx="2.5" />
<path d="M1374.4,2308.9 L1383.2,2308.9 L1378.8,2314.1 Z" fill="#000" />
<text x="971.90" y="2352.30" font-family="'DejaVu Sans','Liberation Sans',sans-serif" font-size="18.9" fill="#000" textLength="283.00" lengthAdjust="spacingAndGlyphs" >Пл. при реальн. усл. (кг/м3):</text>
<rect x="1268.50" y="2331.90" width="159.10" height="30.60" fill="url(#gCombo)" stroke="#7A7A7A" stroke-width="1.4" rx="2.5" />
<line x1="1270.00" y1="2362.30" x2="1426.10" y2="2362.30" stroke="#5A5A5A" stroke-width="1.2" />
<text x="1275.70" y="2352.30" font-family="'DejaVu Sans','Liberation Sans',sans-serif" font-size="18.9" fill="#000" >Вільний</text>
<rect x="1405.60" y="2334.90" width="20.50" height="25.40" fill="url(#gBtn)" stroke="#5E5E5E" stroke-width="1.3" rx="2.5" />
<path d="M1411.4,2346.6 L1420.2,2346.6 L1415.8,2351.8 Z" fill="#000" />
<text x="971.90" y="2390.00" font-family="'DejaVu Sans','Liberation Sans',sans-serif" font-size="18.9" fill="#000" textLength="213.60" lengthAdjust="spacingAndGlyphs" >Частота обсчёта (Гц):</text>
<rect x="1199.10" y="2369.60" width="159.80" height="30.60" fill="url(#gCombo)" stroke="#7A7A7A" stroke-width="1.4" rx="2.5" />
<line x1="1200.60" y1="2400.00" x2="1357.40" y2="2400.00" stroke="#5A5A5A" stroke-width="1.2" />
<text x="1206.30" y="2390.00" font-family="'DejaVu Sans','Liberation Sans',sans-serif" font-size="18.9" fill="#000" >Локальний</text>
<rect x="1336.90" y="2372.60" width="20.50" height="25.40" fill="url(#gBtn)" stroke="#5E5E5E" stroke-width="1.3" rx="2.5" />
<path d="M1342.8,2384.3 L1351.6,2384.3 L1347.2,2389.5 Z" fill="#000" />
<rect x="1367.00" y="2369.60" width="260.80" height="30.60" fill="url(#gCombo)" stroke="#7A7A7A" stroke-width="1.4" rx="2.5" />
<line x1="1368.50" y1="2400.00" x2="1626.30" y2="2400.00" stroke="#5A5A5A" stroke-width="1.2" />
<text x="1374.20" y="2390.00" font-family="'DejaVu Sans','Liberation Sans',sans-serif" font-size="18.9" fill="#000" >Шум РР3</text>
<rect x="1605.80" y="2372.60" width="20.50" height="25.40" fill="url(#gBtn)" stroke="#5E5E5E" stroke-width="1.3" rx="2.5" />
<path d="M1611.6,2384.3 L1620.5,2384.3 L1616.0,2389.5 Z" fill="#000" />
<rect x="1639.10" y="2369.60" width="340.00" height="30.60" fill="url(#gCombo)" stroke="#7A7A7A" stroke-width="1.4" rx="2.5" />
<line x1="1640.60" y1="2400.00" x2="1977.60" y2="2400.00" stroke="#5A5A5A" stroke-width="1.2" />
<text x="1646.30" y="2390.00" font-family="'DejaVu Sans','Liberation Sans',sans-serif" font-size="18.9" fill="#000" >Частота обсчёта функции (Гц)</text>
<rect x="1957.10" y="2372.60" width="20.50" height="25.40" fill="url(#gBtn)" stroke="#5E5E5E" stroke-width="1.3" rx="2.5" />
<path d="M1962.9,2384.3 L1971.8,2384.3 L1967.3,2389.5 Z" fill="#000" />
</g>
<rect x="1979.60" y="1884.50" width="20.80" height="528.50" fill="#F2F2F2" />
<rect x="1979.80" y="1902.60" width="20.40" height="468.00" fill="url(#gSbV)" stroke="#8A8A8A" stroke-width="1.1" />
<line x1="1984.50" y1="2131.00" x2="1996.00" y2="2131.00" stroke="#A8A8A8" stroke-width="1.2" />
<line x1="1984.50" y1="2134.40" x2="1996.00" y2="2134.40" stroke="#A8A8A8" stroke-width="1.2" />
<line x1="1984.50" y1="2137.80" x2="1996.00" y2="2137.80" stroke="#A8A8A8" stroke-width="1.2" />
<line x1="1984.50" y1="2141.20" x2="1996.00" y2="2141.20" stroke="#A8A8A8" stroke-width="1.2" />
<rect x="1979.80" y="1884.60" width="20.50" height="17.80" fill="url(#gBtn)" stroke="#5E5E5E" stroke-width="1.3" rx="2.5" />
<path d="M1984.85,1895.7 L1995.25,1895.7 L1990.05,1890.3 Z" fill="#000" />
<rect x="1979.80" y="2372.30" width="20.50" height="19.40" fill="url(#gBtn)" stroke="#5E5E5E" stroke-width="1.3" rx="2.5" />
<path d="M1984.85,2384.2 L1995.25,2384.2 L1990.05,2378.8 Z" fill="#000" />
<rect x="1979.80" y="2392.30" width="20.50" height="20.50" fill="url(#gBtn)" stroke="#5E5E5E" stroke-width="1.3" rx="2.5" />
<path d="M1984.85,2400.3500000000004 L1995.25,2400.3500000000004 L1990.05,2405.75 Z" fill="#000" />
<rect x="955.20" y="2414.60" width="1023.90" height="18.20" fill="#F2F2F2" />
<line x1="955.20" y1="2414.40" x2="2000.30" y2="2414.40" stroke="#9A9A9A" stroke-width="1.1" />
<rect x="976.50" y="2414.80" width="852.00" height="17.80" fill="url(#gSbH)" stroke="#8A8A8A" stroke-width="1.1" />
<line x1="1396.00" y1="2418.60" x2="1396.00" y2="2428.60" stroke="#A8A8A8" stroke-width="1.2" />
<line x1="1399.40" y1="2418.60" x2="1399.40" y2="2428.60" stroke="#A8A8A8" stroke-width="1.2" />
<line x1="1402.80" y1="2418.60" x2="1402.80" y2="2428.60" stroke="#A8A8A8" stroke-width="1.2" />
<line x1="1406.20" y1="2418.60" x2="1406.20" y2="2428.60" stroke="#A8A8A8" stroke-width="1.2" />
<line x1="1409.60" y1="2418.60" x2="1409.60" y2="2428.60" stroke="#A8A8A8" stroke-width="1.2" />
<rect x="955.20" y="2414.60" width="21.10" height="18.00" fill="url(#gBtn)" stroke="#5E5E5E" stroke-width="1.3" rx="2.5" />
<path d="M967.95,2418.4 L967.95,2428.7999999999997 L962.55,2423.6 Z" fill="#000" />
<rect x="1937.60" y="2414.60" width="20.10" height="18.00" fill="url(#gBtn)" stroke="#5E5E5E" stroke-width="1.3" rx="2.5" />
<path d="M1949.8500000000001,2418.4 L1949.8500000000001,2428.7999999999997 L1944.45,2423.6 Z" fill="#000" />
<rect x="1958.30" y="2414.60" width="20.80" height="18.00" fill="url(#gBtn)" stroke="#5E5E5E" stroke-width="1.3" rx="2.5" />
<path d="M1966.4999999999998,2418.4 L1966.4999999999998,2428.7999999999997 L1971.8999999999999,2423.6 Z" fill="#000" />
<line x1="2006.00" y1="2485.50" x2="2021.00" y2="2470.50" stroke="#5A5A5A" stroke-width="1.3" />
<line x1="2011.00" y1="2485.50" x2="2021.00" y2="2475.50" stroke="#5A5A5A" stroke-width="1.3" />
<line x1="2016.00" y1="2485.50" x2="2021.00" y2="2480.50" stroke="#5A5A5A" stroke-width="1.3" />
</g>
<line x1="1384.70" y1="2798.00" x2="1619.80" y2="2798.00" stroke="#000" stroke-width="2.4" />
<line x1="1384.70" y1="2816.02" x2="1619.80" y2="2816.02" stroke="#000" stroke-width="2.0" />
<line x1="1384.70" y1="2834.04" x2="1619.80" y2="2834.04" stroke="#000" stroke-width="2.0" />
<line x1="1384.70" y1="2852.06" x2="1619.80" y2="2852.06" stroke="#000" stroke-width="2.0" />
<line x1="1384.70" y1="2870.08" x2="1619.80" y2="2870.08" stroke="#000" stroke-width="2.0" />
<line x1="1384.70" y1="2888.10" x2="1619.80" y2="2888.10" stroke="#000" stroke-width="2.4" />
<line x1="1384.70" y1="2906.12" x2="1619.80" y2="2906.12" stroke="#000" stroke-width="2.0" />
<line x1="1384.70" y1="2924.14" x2="1619.80" y2="2924.14" stroke="#000" stroke-width="2.0" />
<line x1="1384.70" y1="2942.16" x2="1619.80" y2="2942.16" stroke="#000" stroke-width="2.0" />
<line x1="1384.70" y1="2960.18" x2="1619.80" y2="2960.18" stroke="#000" stroke-width="2.0" />
<line x1="1384.70" y1="2978.20" x2="1619.80" y2="2978.20" stroke="#000" stroke-width="2.0" />
<line x1="1385.80" y1="2798.00" x2="1385.80" y2="2996.00" stroke="#000" stroke-width="2.4" />
<line x1="1410.70" y1="2798.00" x2="1410.70" y2="2888.10" stroke="#000" stroke-width="2.2" />
<line x1="1446.60" y1="2798.00" x2="1446.60" y2="2996.00" stroke="#000" stroke-width="2.4" />
<line x1="1529.90" y1="2798.00" x2="1529.90" y2="2996.00" stroke="#000" stroke-width="2.4" />
<line x1="1583.40" y1="2798.00" x2="1583.40" y2="2996.00" stroke="#000" stroke-width="2.4" />
<line x1="1619.80" y1="2798.00" x2="1619.80" y2="2996.00" stroke="#000" stroke-width="2.6" />
<line x1="1619.80" y1="2798.00" x2="2051.00" y2="2798.00" stroke="#000" stroke-width="2.6" />
<line x1="1619.80" y1="2852.00" x2="2051.00" y2="2852.00" stroke="#000" stroke-width="2.6" />
<line x1="1619.80" y1="2941.60" x2="2051.00" y2="2941.60" stroke="#000" stroke-width="2.6" />
<line x1="1872.30" y1="2852.00" x2="1872.30" y2="2996.00" stroke="#000" stroke-width="2.4" />
<line x1="1926.20" y1="2852.00" x2="1926.20" y2="2923.70" stroke="#000" stroke-width="2.2" />
<line x1="1987.30" y1="2852.00" x2="1987.30" y2="2923.70" stroke="#000" stroke-width="2.2" />
<line x1="1872.30" y1="2869.90" x2="1926.20" y2="2869.90" stroke="#000" stroke-width="2.0" />
<line x1="1889.90" y1="2869.90" x2="1889.90" y2="2906.40" stroke="#000" stroke-width="2.0" />
<line x1="1907.80" y1="2869.90" x2="1907.80" y2="2906.40" stroke="#000" stroke-width="2.0" />
<line x1="1872.30" y1="2906.40" x2="2051.00" y2="2906.40" stroke="#000" stroke-width="2.0" />
<line x1="1872.30" y1="2923.70" x2="2051.00" y2="2923.70" stroke="#000" stroke-width="2.2" />
<text x="1386.40" y="2884.80" font-family="'Liberation Sans',sans-serif" font-size="10.6" fill="#000" font-weight="bold" textLength="23.60" lengthAdjust="spacingAndGlyphs" >змін.</text>
<text x="1418.00" y="2884.90" font-family="'Liberation Sans',sans-serif" font-size="12.8" fill="#000" textLength="22.60" lengthAdjust="spacingAndGlyphs" >Арк.</text>
<text x="1461.30" y="2884.90" font-family="'Liberation Sans',sans-serif" font-size="12.8" fill="#000" textLength="52.10" lengthAdjust="spacingAndGlyphs" >№ докум.</text>
<text x="1533.20" y="2884.90" font-family="'Liberation Sans',sans-serif" font-size="12.8" fill="#000" textLength="39.60" lengthAdjust="spacingAndGlyphs" >Підпис</text>
<text x="1586.70" y="2884.90" font-family="'Liberation Sans',sans-serif" font-size="12.8" fill="#000" textLength="27.50" lengthAdjust="spacingAndGlyphs" >Дата</text>
<text x="1389.40" y="2902.60" font-family="'Liberation Sans',sans-serif" font-size="12.8" fill="#000" textLength="44.50" lengthAdjust="spacingAndGlyphs" >Розроб.</text>
<text x="1449.60" y="2902.80" font-family="'Liberation Sans',sans-serif" font-size="11.2" fill="#000" textLength="76.20" lengthAdjust="spacingAndGlyphs" >Савоченко Р.О.</text>
<text x="1389.40" y="2920.80" font-family="'Liberation Sans',sans-serif" font-size="12.8" fill="#000" textLength="49.00" lengthAdjust="spacingAndGlyphs" >Перевір.</text>
<text x="1450.30" y="2920.80" font-family="'Liberation Sans',sans-serif" font-size="12.8" fill="#000" textLength="77.00" lengthAdjust="spacingAndGlyphs" >Разумов Ю.С.</text>
<text x="1389.40" y="2974.70" font-family="'Liberation Sans',sans-serif" font-size="12.8" fill="#000" textLength="49.30" lengthAdjust="spacingAndGlyphs" >Н. контр.</text>
<text x="1449.40" y="2974.90" font-family="'Liberation Sans',sans-serif" font-size="11.2" fill="#000" textLength="78.60" lengthAdjust="spacingAndGlyphs" >Шинкаренко В.І.</text>
<text x="1389.40" y="2992.70" font-family="'Liberation Sans',sans-serif" font-size="12.8" fill="#000" textLength="27.50" lengthAdjust="spacingAndGlyphs" >Затв.</text>
<text x="1450.70" y="2992.70" font-family="'Liberation Sans',sans-serif" font-size="12.8" fill="#000" textLength="77.30" lengthAdjust="spacingAndGlyphs" >Скалозуб В.В.</text>
<text x="1701.50" y="2819.90" font-family="'Liberation Sans',sans-serif" font-size="12.8" fill="#000" textLength="304.80" lengthAdjust="spacingAndGlyphs" >Розробка компонентів середовища програмування</text>
<text x="1684.80" y="2837.80" font-family="'Liberation Sans',sans-serif" font-size="12.8" fill="#000" textLength="338.20" lengthAdjust="spacingAndGlyphs" >системи OpenSCADA  для хіміко-технологічних процесів</text>
<text x="1670.60" y="2895.00" font-family="'Liberation Sans',sans-serif" font-size="12.8" fill="#000" textLength="155.70" lengthAdjust="spacingAndGlyphs" >Математична модель вузла</text>
<text x="1679.20" y="2914.00" font-family="'Liberation Sans',sans-serif" font-size="12.8" fill="#000" textLength="140.10" lengthAdjust="spacingAndGlyphs" >технологічного процесу</text>
<text x="1879.30" y="2920.40" font-family="'Liberation Sans',sans-serif" font-size="12.8" fill="#000" textLength="36.80" lengthAdjust="spacingAndGlyphs" >Літера</text>
<text x="1936.50" y="2920.40" font-family="'Liberation Sans',sans-serif" font-size="12.8" fill="#000" textLength="34.30" lengthAdjust="spacingAndGlyphs" >Аркуш</text>
<text x="1995.10" y="2920.40" font-family="'Liberation Sans',sans-serif" font-size="12.8" fill="#000" textLength="41.90" lengthAdjust="spacingAndGlyphs" >Аркушів</text>
</svg></body></html>
